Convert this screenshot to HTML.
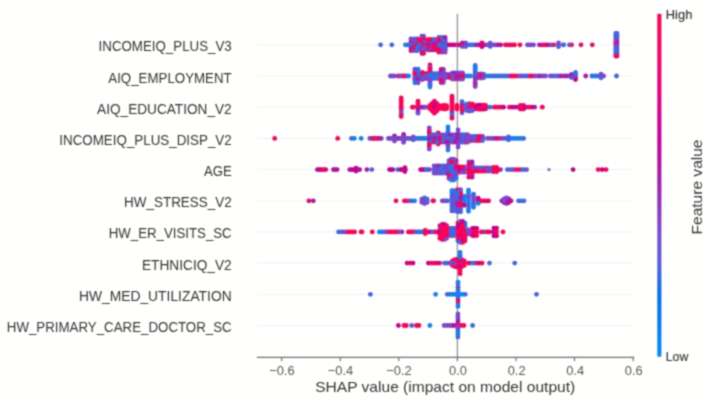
<!DOCTYPE html>
<html><head><meta charset="utf-8"><style>
html,body{margin:0;padding:0;background:#fff;overflow:hidden;}
svg{display:block;}

text{font-family:"Liberation Sans",sans-serif;}
</style></head><body>
<svg width="714" height="403" viewBox="0 0 714 403">
<defs>
<filter id="bl" x="0" y="0" width="714" height="403" filterUnits="userSpaceOnUse" color-interpolation-filters="sRGB">
<feColorMatrix in="SourceGraphic" type="matrix" values="0.299 0.587 0.114 0 0 0.299 0.587 0.114 0 0 0.299 0.587 0.114 0 0 0 0 0 1 0" result="Y"/>
<feColorMatrix in="SourceGraphic" type="matrix" values="0.3505 -0.2935 -0.057 0 0.5 -0.1495 0.2065 -0.057 0 0.5 -0.1495 -0.2935 0.443 0 0.5 0 0 0 1 0" result="C"/>
<feConvolveMatrix in="C" order="3" kernelMatrix="0.21 0.458 0.21 0.458 1 0.458 0.21 0.458 0.21" divisor="3.672" edgeMode="duplicate" result="Cb"/>
<feComposite in="Y" in2="Cb" operator="arithmetic" k1="0" k2="1" k3="2" k4="-1" result="M"/>
<feConvolveMatrix in="M" order="3" kernelMatrix="0.13 0.36 0.13 0.36 1 0.36 0.13 0.36 0.13" divisor="2.96" edgeMode="duplicate"/>
</filter>
<linearGradient id="cb" x1="0" y1="1" x2="0" y2="0">
<stop offset="0" stop-color="#008bfb"/>
<stop offset="0.09" stop-color="#007ef6"/>
<stop offset="0.18" stop-color="#006fed"/>
<stop offset="0.27" stop-color="#575fdf"/>
<stop offset="0.36" stop-color="#794cce"/>
<stop offset="0.45" stop-color="#9233b9"/>
<stop offset="0.54" stop-color="#aa17a7"/>
<stop offset="0.63" stop-color="#c5009a"/>
<stop offset="0.72" stop-color="#db008a"/>
<stop offset="0.81" stop-color="#ec0078"/>
<stop offset="0.90" stop-color="#fa0065"/>
<stop offset="1" stop-color="#ff0051"/>
</linearGradient>
</defs>
<g filter="url(#bl)">
<rect width="714" height="403" fill="#fff"/>
<g stroke="#f2f2f2" stroke-width="1">
<line x1="257" x2="633.6" y1="44.8" y2="44.8"/>
<line x1="257" x2="633.6" y1="76.0" y2="76.0"/>
<line x1="257" x2="633.6" y1="107.2" y2="107.2"/>
<line x1="257" x2="633.6" y1="138.4" y2="138.4"/>
<line x1="257" x2="633.6" y1="169.6" y2="169.6"/>
<line x1="257" x2="633.6" y1="200.8" y2="200.8"/>
<line x1="257" x2="633.6" y1="231.9" y2="231.9"/>
<line x1="257" x2="633.6" y1="263.1" y2="263.1"/>
<line x1="257" x2="633.6" y1="294.3" y2="294.3"/>
<line x1="257" x2="633.6" y1="325.5" y2="325.5"/>
</g>
<line x1="457.4" x2="457.4" y1="13.8" y2="357" stroke="#9a9a9a" stroke-width="1.4"/>
<g>
<circle cx="457.5" cy="79.0" r="2.40" fill="#7a48cf"/>
<circle cx="401.2" cy="104.9" r="2.40" fill="#ff0055"/>
<circle cx="392.5" cy="76.0" r="2.40" fill="#7a48cf"/>
<circle cx="412.1" cy="200.8" r="2.40" fill="#4266e2"/>
<circle cx="445.1" cy="40.0" r="2.40" fill="#ff0055"/>
<circle cx="439.9" cy="47.2" r="2.40" fill="#ff0055"/>
<circle cx="447.6" cy="200.8" r="2.40" fill="#7a48cf"/>
<circle cx="444.7" cy="142.0" r="2.40" fill="#a81aa8"/>
<circle cx="465.1" cy="237.9" r="2.40" fill="#ff0055"/>
<circle cx="437.6" cy="77.3" r="2.40" fill="#1580f2"/>
<circle cx="438.2" cy="135.6" r="2.40" fill="#ff0055"/>
<circle cx="481.0" cy="76.0" r="2.40" fill="#7a48cf"/>
<circle cx="457.4" cy="206.3" r="2.40" fill="#ff0055"/>
<circle cx="510.0" cy="44.8" r="2.40" fill="#c8008f"/>
<circle cx="460.3" cy="226.7" r="2.40" fill="#7a48cf"/>
<circle cx="448.0" cy="126.8" r="2.40" fill="#1580f2"/>
<circle cx="407.6" cy="44.8" r="2.40" fill="#4266e2"/>
<circle cx="568.6" cy="76.0" r="2.40" fill="#7a48cf"/>
<circle cx="430.0" cy="83.0" r="2.40" fill="#1580f2"/>
<circle cx="425.2" cy="230.3" r="2.40" fill="#ff0055"/>
<circle cx="413.3" cy="137.0" r="2.40" fill="#7a48cf"/>
<circle cx="475.2" cy="263.1" r="2.40" fill="#ff0055"/>
<circle cx="432.1" cy="42.4" r="2.40" fill="#a81aa8"/>
<circle cx="532.9" cy="76.0" r="2.40" fill="#ff0055"/>
<circle cx="461.1" cy="325.5" r="2.40" fill="#ff0055"/>
<circle cx="458.0" cy="298.4" r="2.40" fill="#1580f2"/>
<circle cx="417.1" cy="38.9" r="2.40" fill="#a81aa8"/>
<circle cx="429.4" cy="142.0" r="2.40" fill="#1580f2"/>
<circle cx="394.5" cy="135.8" r="2.40" fill="#a81aa8"/>
<circle cx="429.4" cy="134.8" r="2.40" fill="#1580f2"/>
<circle cx="430.0" cy="78.9" r="2.40" fill="#4266e2"/>
<circle cx="483.6" cy="74.2" r="2.40" fill="#7a48cf"/>
<circle cx="418.1" cy="69.2" r="2.40" fill="#1580f2"/>
<circle cx="407.1" cy="263.1" r="2.40" fill="#c8008f"/>
<circle cx="485.6" cy="108.9" r="2.40" fill="#ff0055"/>
<circle cx="458.1" cy="135.5" r="2.40" fill="#7a48cf"/>
<circle cx="417.5" cy="76.0" r="2.40" fill="#4266e2"/>
<circle cx="435.6" cy="294.3" r="2.40" fill="#1580f2"/>
<circle cx="571.6" cy="44.8" r="2.40" fill="#ff0055"/>
<circle cx="434.0" cy="142.0" r="2.40" fill="#7a48cf"/>
<circle cx="414.0" cy="44.8" r="2.40" fill="#4266e2"/>
<circle cx="526.2" cy="107.2" r="2.40" fill="#a81aa8"/>
<circle cx="493.4" cy="169.6" r="2.40" fill="#ff0055"/>
<circle cx="478.4" cy="76.0" r="2.40" fill="#7a48cf"/>
<circle cx="414.9" cy="82.8" r="2.40" fill="#1580f2"/>
<circle cx="457.0" cy="107.2" r="2.40" fill="#ff0055"/>
<circle cx="460.1" cy="73.0" r="2.40" fill="#7a48cf"/>
<circle cx="407.9" cy="138.4" r="2.40" fill="#7a48cf"/>
<circle cx="507.7" cy="44.8" r="2.40" fill="#ff0055"/>
<circle cx="422.4" cy="169.6" r="2.40" fill="#ff0055"/>
<circle cx="481.0" cy="73.9" r="2.40" fill="#7a48cf"/>
<circle cx="444.5" cy="109.0" r="2.40" fill="#ff0055"/>
<circle cx="472.1" cy="167.0" r="2.40" fill="#ff0055"/>
<circle cx="454.9" cy="76.0" r="2.40" fill="#ff0055"/>
<circle cx="442.5" cy="42.4" r="2.40" fill="#7a48cf"/>
<circle cx="391.9" cy="138.4" r="2.40" fill="#7a48cf"/>
<circle cx="411.4" cy="44.8" r="2.40" fill="#7a48cf"/>
<circle cx="448.0" cy="133.7" r="2.40" fill="#ff0055"/>
<circle cx="406.9" cy="200.8" r="2.40" fill="#ff0055"/>
<circle cx="437.3" cy="40.0" r="2.40" fill="#7a48cf"/>
<circle cx="460.6" cy="206.3" r="2.40" fill="#ff0055"/>
<circle cx="452.3" cy="134.8" r="2.40" fill="#7a48cf"/>
<circle cx="475.2" cy="84.7" r="2.40" fill="#a81aa8"/>
<circle cx="510.7" cy="138.4" r="2.40" fill="#4266e2"/>
<circle cx="422.8" cy="107.2" r="2.40" fill="#7a48cf"/>
<circle cx="443.3" cy="69.4" r="2.40" fill="#a81aa8"/>
<circle cx="425.3" cy="76.0" r="2.40" fill="#1580f2"/>
<circle cx="615.8" cy="47.9" r="2.40" fill="#1580f2"/>
<circle cx="356.0" cy="171.0" r="2.40" fill="#c8008f"/>
<circle cx="467.6" cy="142.0" r="2.40" fill="#4266e2"/>
<circle cx="508.5" cy="139.8" r="2.40" fill="#4266e2"/>
<circle cx="453.6" cy="208.4" r="2.40" fill="#4266e2"/>
<circle cx="418.1" cy="80.5" r="2.40" fill="#7a48cf"/>
<circle cx="430.0" cy="67.0" r="2.40" fill="#ff0055"/>
<circle cx="500.3" cy="138.4" r="2.40" fill="#7a48cf"/>
<circle cx="444.1" cy="166.0" r="2.40" fill="#4266e2"/>
<circle cx="538.0" cy="76.0" r="2.40" fill="#7a48cf"/>
<circle cx="454.8" cy="259.7" r="2.40" fill="#ff0055"/>
<circle cx="434.7" cy="42.4" r="2.40" fill="#4266e2"/>
<circle cx="446.4" cy="74.5" r="2.40" fill="#a81aa8"/>
<circle cx="437.3" cy="47.2" r="2.40" fill="#7a48cf"/>
<circle cx="442.1" cy="142.0" r="2.40" fill="#ff0055"/>
<circle cx="460.3" cy="237.2" r="2.40" fill="#ff0055"/>
<circle cx="460.1" cy="271.1" r="2.40" fill="#ff0055"/>
<circle cx="510.2" cy="76.0" r="2.40" fill="#ff0055"/>
<circle cx="457.4" cy="211.8" r="2.40" fill="#4266e2"/>
<circle cx="596.6" cy="76.0" r="2.40" fill="#4266e2"/>
<circle cx="313.3" cy="200.8" r="2.40" fill="#a81aa8"/>
<circle cx="442.5" cy="44.8" r="2.40" fill="#ff0055"/>
<circle cx="458.1" cy="129.8" r="2.40" fill="#7a48cf"/>
<circle cx="472.1" cy="169.6" r="2.40" fill="#7a48cf"/>
<circle cx="416.6" cy="42.4" r="2.40" fill="#7a48cf"/>
<circle cx="468.5" cy="200.8" r="2.40" fill="#1580f2"/>
<circle cx="448.0" cy="131.4" r="2.40" fill="#4266e2"/>
<circle cx="423.6" cy="50.5" r="2.40" fill="#a81aa8"/>
<circle cx="508.1" cy="138.4" r="2.40" fill="#1580f2"/>
<circle cx="383.5" cy="231.9" r="2.40" fill="#4266e2"/>
<circle cx="500.6" cy="44.8" r="2.40" fill="#c8008f"/>
<circle cx="429.3" cy="136.2" r="2.40" fill="#4266e2"/>
<circle cx="428.4" cy="39.7" r="2.40" fill="#a81aa8"/>
<circle cx="404.9" cy="167.7" r="2.40" fill="#c8008f"/>
<circle cx="429.5" cy="47.2" r="2.40" fill="#4266e2"/>
<circle cx="477.0" cy="138.4" r="2.40" fill="#4266e2"/>
<circle cx="465.6" cy="44.8" r="2.40" fill="#a81aa8"/>
<circle cx="449.9" cy="231.9" r="2.40" fill="#4266e2"/>
<circle cx="464.2" cy="196.2" r="2.40" fill="#1580f2"/>
<circle cx="455.6" cy="44.8" r="2.40" fill="#a81aa8"/>
<circle cx="333.5" cy="169.6" r="2.40" fill="#c8008f"/>
<circle cx="434.1" cy="169.6" r="2.40" fill="#4266e2"/>
<circle cx="448.0" cy="140.7" r="2.40" fill="#4266e2"/>
<circle cx="485.6" cy="44.8" r="2.40" fill="#7a48cf"/>
<circle cx="349.7" cy="169.6" r="2.40" fill="#a81aa8"/>
<circle cx="457.0" cy="109.0" r="2.40" fill="#ff0055"/>
<circle cx="371.7" cy="138.4" r="2.40" fill="#a81aa8"/>
<circle cx="356.0" cy="168.2" r="2.40" fill="#c8008f"/>
<circle cx="545.6" cy="76.0" r="2.40" fill="#7a48cf"/>
<circle cx="527.9" cy="76.0" r="2.40" fill="#7a48cf"/>
<circle cx="454.1" cy="228.3" r="2.40" fill="#7a48cf"/>
<circle cx="461.8" cy="266.5" r="2.40" fill="#ff0055"/>
<circle cx="475.2" cy="69.2" r="2.40" fill="#1580f2"/>
<circle cx="505.5" cy="138.4" r="2.40" fill="#4266e2"/>
<circle cx="474.6" cy="235.5" r="2.40" fill="#ff0055"/>
<circle cx="430.6" cy="73.6" r="2.40" fill="#7a48cf"/>
<circle cx="496.6" cy="169.6" r="2.40" fill="#ff0055"/>
<circle cx="443.0" cy="138.4" r="2.40" fill="#4266e2"/>
<circle cx="617.0" cy="35.6" r="2.40" fill="#1580f2"/>
<circle cx="456.1" cy="169.6" r="2.40" fill="#7a48cf"/>
<circle cx="421.9" cy="50.5" r="2.40" fill="#ff0055"/>
<circle cx="432.1" cy="44.8" r="2.40" fill="#4266e2"/>
<circle cx="522.8" cy="76.0" r="2.40" fill="#7a48cf"/>
<circle cx="465.0" cy="134.8" r="2.40" fill="#ff0055"/>
<circle cx="585.7" cy="76.0" r="2.40" fill="#a81aa8"/>
<circle cx="458.0" cy="282.2" r="2.40" fill="#1580f2"/>
<circle cx="446.6" cy="238.3" r="2.40" fill="#7a48cf"/>
<circle cx="481.0" cy="109.3" r="2.40" fill="#ff0055"/>
<circle cx="379.4" cy="231.9" r="2.40" fill="#1580f2"/>
<circle cx="353.7" cy="169.6" r="2.40" fill="#c8008f"/>
<circle cx="453.7" cy="180.0" r="2.40" fill="#1580f2"/>
<circle cx="422.2" cy="76.0" r="2.40" fill="#ff0055"/>
<circle cx="404.4" cy="200.8" r="2.40" fill="#ff0055"/>
<circle cx="418.0" cy="107.2" r="2.40" fill="#ff0055"/>
<circle cx="420.3" cy="138.4" r="2.40" fill="#1580f2"/>
<circle cx="446.6" cy="231.9" r="2.40" fill="#ff0055"/>
<circle cx="317.3" cy="169.6" r="2.40" fill="#a81aa8"/>
<circle cx="536.5" cy="294.3" r="2.40" fill="#4266e2"/>
<circle cx="465.1" cy="240.8" r="2.40" fill="#ff0055"/>
<circle cx="444.7" cy="134.8" r="2.40" fill="#7a48cf"/>
<circle cx="452.0" cy="100.2" r="2.40" fill="#ff0055"/>
<circle cx="471.4" cy="140.5" r="2.40" fill="#ff0055"/>
<circle cx="432.1" cy="110.9" r="2.40" fill="#ff0055"/>
<circle cx="410.2" cy="231.9" r="2.40" fill="#ff0055"/>
<circle cx="573.1" cy="169.6" r="2.40" fill="#a8107e"/>
<circle cx="520.4" cy="109.0" r="2.40" fill="#ff0055"/>
<circle cx="442.1" cy="224.5" r="2.40" fill="#a81aa8"/>
<circle cx="420.1" cy="78.4" r="2.40" fill="#4266e2"/>
<circle cx="441.1" cy="76.0" r="2.40" fill="#7a48cf"/>
<circle cx="470.5" cy="44.8" r="2.40" fill="#1580f2"/>
<circle cx="421.9" cy="200.8" r="2.40" fill="#4266e2"/>
<circle cx="460.1" cy="252.5" r="2.40" fill="#4266e2"/>
<circle cx="405.4" cy="44.8" r="2.40" fill="#1580f2"/>
<circle cx="414.9" cy="73.7" r="2.40" fill="#ff0055"/>
<circle cx="601.0" cy="76.0" r="2.40" fill="#4266e2"/>
<circle cx="403.7" cy="169.6" r="2.40" fill="#ff0055"/>
<circle cx="553.0" cy="76.0" r="2.40" fill="#7a48cf"/>
<circle cx="429.6" cy="169.6" r="2.40" fill="#7a48cf"/>
<circle cx="514.7" cy="263.1" r="2.40" fill="#4266e2"/>
<circle cx="398.4" cy="76.0" r="2.40" fill="#ff0055"/>
<circle cx="423.6" cy="47.7" r="2.40" fill="#ff0055"/>
<circle cx="503.0" cy="231.9" r="2.40" fill="#ff0055"/>
<circle cx="460.1" cy="79.0" r="2.40" fill="#7a48cf"/>
<circle cx="428.4" cy="42.2" r="2.40" fill="#7a48cf"/>
<circle cx="403.6" cy="136.4" r="2.40" fill="#7a48cf"/>
<circle cx="444.2" cy="325.5" r="2.40" fill="#7a48cf"/>
<circle cx="427.1" cy="200.8" r="2.40" fill="#4266e2"/>
<circle cx="409.7" cy="138.4" r="2.40" fill="#4266e2"/>
<circle cx="477.0" cy="136.3" r="2.40" fill="#a81aa8"/>
<circle cx="436.6" cy="166.0" r="2.40" fill="#7a48cf"/>
<circle cx="424.8" cy="231.9" r="2.40" fill="#7a48cf"/>
<circle cx="482.0" cy="42.9" r="2.40" fill="#c8008f"/>
<circle cx="462.0" cy="104.4" r="2.40" fill="#ff0055"/>
<circle cx="472.5" cy="228.3" r="2.40" fill="#c8008f"/>
<circle cx="434.1" cy="166.0" r="2.40" fill="#7a48cf"/>
<circle cx="401.2" cy="100.2" r="2.40" fill="#ff0055"/>
<circle cx="338.6" cy="231.9" r="2.40" fill="#4266e2"/>
<circle cx="508.5" cy="138.4" r="2.40" fill="#4266e2"/>
<circle cx="448.9" cy="160.7" r="2.40" fill="#4266e2"/>
<circle cx="432.1" cy="103.4" r="2.40" fill="#ff0055"/>
<circle cx="617.0" cy="47.9" r="2.40" fill="#1580f2"/>
<circle cx="464.6" cy="169.6" r="2.40" fill="#ff0055"/>
<circle cx="439.9" cy="49.6" r="2.40" fill="#7a48cf"/>
<circle cx="453.0" cy="134.8" r="2.40" fill="#7a48cf"/>
<circle cx="460.6" cy="200.8" r="2.40" fill="#a81aa8"/>
<circle cx="545.1" cy="44.8" r="2.40" fill="#ff0055"/>
<circle cx="468.5" cy="211.3" r="2.40" fill="#1580f2"/>
<circle cx="462.7" cy="234.5" r="2.40" fill="#4266e2"/>
<circle cx="433.6" cy="200.8" r="2.40" fill="#c8008f"/>
<circle cx="468.9" cy="162.0" r="2.40" fill="#7a48cf"/>
<circle cx="429.3" cy="146.8" r="2.40" fill="#ff0055"/>
<circle cx="319.4" cy="169.6" r="2.40" fill="#c8008f"/>
<circle cx="501.3" cy="107.2" r="2.40" fill="#ff0055"/>
<circle cx="457.0" cy="105.4" r="2.40" fill="#ff0055"/>
<circle cx="558.2" cy="76.0" r="2.40" fill="#7a48cf"/>
<circle cx="466.4" cy="107.2" r="2.40" fill="#ff0055"/>
<circle cx="449.6" cy="74.5" r="2.40" fill="#7a48cf"/>
<circle cx="468.5" cy="208.7" r="2.40" fill="#1580f2"/>
<circle cx="469.5" cy="110.8" r="2.40" fill="#7a48cf"/>
<circle cx="448.9" cy="172.5" r="2.40" fill="#ff0055"/>
<circle cx="448.9" cy="169.6" r="2.40" fill="#7a48cf"/>
<circle cx="430.0" cy="73.0" r="2.40" fill="#4266e2"/>
<circle cx="473.5" cy="200.8" r="2.40" fill="#1580f2"/>
<circle cx="462.0" cy="112.8" r="2.40" fill="#7a48cf"/>
<circle cx="468.5" cy="198.1" r="2.40" fill="#4266e2"/>
<circle cx="486.8" cy="168.0" r="2.40" fill="#ff0055"/>
<circle cx="452.0" cy="112.2" r="2.40" fill="#7a48cf"/>
<circle cx="430.0" cy="71.0" r="2.40" fill="#7a48cf"/>
<circle cx="449.8" cy="142.0" r="2.40" fill="#ff0055"/>
<circle cx="410.9" cy="41.8" r="2.40" fill="#4266e2"/>
<circle cx="511.0" cy="200.8" r="2.40" fill="#c8008f"/>
<circle cx="439.9" cy="238.3" r="2.40" fill="#ff0055"/>
<circle cx="448.0" cy="145.3" r="2.40" fill="#ff0055"/>
<circle cx="506.4" cy="200.8" r="2.40" fill="#7a48cf"/>
<circle cx="430.0" cy="81.0" r="2.40" fill="#1580f2"/>
<circle cx="437.3" cy="49.6" r="2.40" fill="#4266e2"/>
<circle cx="399.0" cy="138.4" r="2.40" fill="#7a48cf"/>
<circle cx="424.5" cy="197.9" r="2.40" fill="#4266e2"/>
<circle cx="500.6" cy="169.6" r="2.40" fill="#7a48cf"/>
<circle cx="476.4" cy="108.9" r="2.40" fill="#c8008f"/>
<circle cx="462.4" cy="134.8" r="2.40" fill="#7a48cf"/>
<circle cx="432.9" cy="42.2" r="2.40" fill="#c8008f"/>
<circle cx="459.5" cy="267.0" r="2.40" fill="#ff0055"/>
<circle cx="460.6" cy="209.1" r="2.40" fill="#4266e2"/>
<circle cx="419.4" cy="231.9" r="2.40" fill="#4266e2"/>
<circle cx="467.6" cy="138.4" r="2.40" fill="#4266e2"/>
<circle cx="489.6" cy="169.6" r="2.40" fill="#7a48cf"/>
<circle cx="465.1" cy="142.0" r="2.40" fill="#7a48cf"/>
<circle cx="486.8" cy="169.6" r="2.40" fill="#7a48cf"/>
<circle cx="434.4" cy="107.2" r="2.40" fill="#ff0055"/>
<circle cx="434.4" cy="101.2" r="2.40" fill="#ff0055"/>
<circle cx="434.4" cy="76.0" r="2.40" fill="#4266e2"/>
<circle cx="461.8" cy="263.1" r="2.40" fill="#c8008f"/>
<circle cx="430.0" cy="65.0" r="2.40" fill="#ff0055"/>
<circle cx="457.9" cy="319.1" r="2.40" fill="#7a48cf"/>
<circle cx="439.1" cy="108.7" r="2.40" fill="#ff0055"/>
<circle cx="429.3" cy="138.4" r="2.40" fill="#1580f2"/>
<circle cx="563.4" cy="76.0" r="2.40" fill="#7a48cf"/>
<circle cx="404.3" cy="138.4" r="2.40" fill="#7a48cf"/>
<circle cx="464.2" cy="263.1" r="2.40" fill="#c8008f"/>
<circle cx="439.1" cy="173.2" r="2.40" fill="#4266e2"/>
<circle cx="430.0" cy="67.4" r="2.40" fill="#7a48cf"/>
<circle cx="427.9" cy="73.6" r="2.40" fill="#7a48cf"/>
<circle cx="448.9" cy="163.6" r="2.40" fill="#7a48cf"/>
<circle cx="476.4" cy="105.4" r="2.40" fill="#ff0055"/>
<circle cx="468.5" cy="195.4" r="2.40" fill="#7a48cf"/>
<circle cx="458.0" cy="303.7" r="2.40" fill="#1580f2"/>
<circle cx="462.5" cy="142.0" r="2.40" fill="#7a48cf"/>
<circle cx="473.5" cy="202.9" r="2.40" fill="#7a48cf"/>
<circle cx="460.1" cy="268.4" r="2.40" fill="#ff0055"/>
<circle cx="452.3" cy="142.0" r="2.40" fill="#7a48cf"/>
<circle cx="481.3" cy="44.8" r="2.40" fill="#ff0055"/>
<circle cx="406.6" cy="76.0" r="2.40" fill="#4266e2"/>
<circle cx="468.4" cy="44.8" r="2.40" fill="#4266e2"/>
<circle cx="432.9" cy="200.8" r="2.40" fill="#ff0055"/>
<circle cx="446.4" cy="77.5" r="2.40" fill="#7a48cf"/>
<circle cx="617.0" cy="54.0" r="2.40" fill="#ff0055"/>
<circle cx="616.5" cy="76.0" r="2.40" fill="#4266e2"/>
<circle cx="492.5" cy="76.0" r="2.40" fill="#1580f2"/>
<circle cx="452.0" cy="231.9" r="2.40" fill="#1580f2"/>
<circle cx="515.6" cy="169.6" r="2.40" fill="#ff0055"/>
<circle cx="393.7" cy="231.9" r="2.40" fill="#ff0055"/>
<circle cx="430.6" cy="39.7" r="2.40" fill="#ff0055"/>
<circle cx="606.0" cy="169.6" r="2.40" fill="#ff0055"/>
<circle cx="482.6" cy="138.4" r="2.40" fill="#4266e2"/>
<circle cx="492.0" cy="44.8" r="2.40" fill="#4266e2"/>
<circle cx="449.9" cy="294.3" r="2.40" fill="#1580f2"/>
<circle cx="465.6" cy="43.0" r="2.40" fill="#7a48cf"/>
<circle cx="468.5" cy="192.8" r="2.40" fill="#1580f2"/>
<circle cx="430.0" cy="87.0" r="2.40" fill="#1580f2"/>
<circle cx="465.4" cy="76.0" r="2.40" fill="#1580f2"/>
<circle cx="397.3" cy="138.4" r="2.40" fill="#a81aa8"/>
<circle cx="485.6" cy="107.2" r="2.40" fill="#ff0055"/>
<circle cx="465.6" cy="46.6" r="2.40" fill="#7a48cf"/>
<circle cx="413.3" cy="138.4" r="2.40" fill="#7a48cf"/>
<circle cx="434.1" cy="173.2" r="2.40" fill="#7a48cf"/>
<circle cx="457.9" cy="334.5" r="2.40" fill="#1580f2"/>
<circle cx="496.6" cy="167.4" r="2.40" fill="#ff0055"/>
<circle cx="453.7" cy="164.3" r="2.40" fill="#7a48cf"/>
<circle cx="496.6" cy="235.8" r="2.40" fill="#c8008f"/>
<circle cx="487.7" cy="44.8" r="2.40" fill="#4266e2"/>
<circle cx="414.9" cy="78.4" r="2.40" fill="#a81aa8"/>
<circle cx="434.7" cy="40.0" r="2.40" fill="#a81aa8"/>
<circle cx="496.7" cy="107.2" r="2.40" fill="#ff0055"/>
<circle cx="465.1" cy="223.1" r="2.40" fill="#1580f2"/>
<circle cx="421.9" cy="39.1" r="2.40" fill="#ff0055"/>
<circle cx="418.1" cy="82.8" r="2.40" fill="#7a48cf"/>
<circle cx="475.2" cy="71.2" r="2.40" fill="#4266e2"/>
<circle cx="489.9" cy="44.8" r="2.40" fill="#1580f2"/>
<circle cx="410.9" cy="50.7" r="2.40" fill="#a81aa8"/>
<circle cx="462.4" cy="138.4" r="2.40" fill="#ff0055"/>
<circle cx="397.8" cy="231.9" r="2.40" fill="#ff0055"/>
<circle cx="571.5" cy="76.0" r="2.40" fill="#a81aa8"/>
<circle cx="434.0" cy="138.4" r="2.40" fill="#7a48cf"/>
<circle cx="469.5" cy="103.6" r="2.40" fill="#ff0055"/>
<circle cx="436.8" cy="107.2" r="2.40" fill="#c8008f"/>
<circle cx="391.1" cy="169.6" r="2.40" fill="#a81aa8"/>
<circle cx="475.4" cy="169.6" r="2.40" fill="#4266e2"/>
<circle cx="446.5" cy="263.1" r="2.40" fill="#1580f2"/>
<circle cx="470.7" cy="263.1" r="2.40" fill="#7a48cf"/>
<circle cx="413.9" cy="231.9" r="2.40" fill="#ff0055"/>
<circle cx="451.9" cy="200.8" r="2.40" fill="#7a48cf"/>
<circle cx="490.2" cy="43.2" r="2.40" fill="#7a48cf"/>
<circle cx="396.0" cy="200.8" r="2.40" fill="#ff0055"/>
<circle cx="429.3" cy="140.5" r="2.40" fill="#7a48cf"/>
<circle cx="512.3" cy="44.8" r="2.40" fill="#ff0055"/>
<circle cx="444.7" cy="138.4" r="2.40" fill="#a81aa8"/>
<circle cx="458.0" cy="287.6" r="2.40" fill="#ff0055"/>
<circle cx="547.9" cy="44.8" r="2.40" fill="#c8008f"/>
<circle cx="435.1" cy="49.9" r="2.40" fill="#7a48cf"/>
<circle cx="434.4" cy="110.2" r="2.40" fill="#ff0055"/>
<circle cx="478.2" cy="200.8" r="2.40" fill="#c8008f"/>
<circle cx="432.1" cy="49.6" r="2.40" fill="#ff0055"/>
<circle cx="451.3" cy="174.8" r="2.40" fill="#ff0055"/>
<circle cx="460.3" cy="231.9" r="2.40" fill="#4266e2"/>
<circle cx="418.0" cy="113.2" r="2.40" fill="#7a48cf"/>
<circle cx="432.9" cy="49.9" r="2.40" fill="#a81aa8"/>
<circle cx="434.7" cy="49.6" r="2.40" fill="#a81aa8"/>
<circle cx="481.1" cy="169.6" r="2.40" fill="#7a48cf"/>
<circle cx="439.9" cy="228.8" r="2.40" fill="#7a48cf"/>
<circle cx="599.0" cy="76.0" r="2.40" fill="#4266e2"/>
<circle cx="617.0" cy="37.6" r="2.40" fill="#7a48cf"/>
<circle cx="446.6" cy="107.2" r="2.40" fill="#ff0055"/>
<circle cx="448.0" cy="129.1" r="2.40" fill="#1580f2"/>
<circle cx="411.4" cy="47.2" r="2.40" fill="#4266e2"/>
<circle cx="468.5" cy="234.0" r="2.40" fill="#7a48cf"/>
<circle cx="441.1" cy="82.6" r="2.40" fill="#a81aa8"/>
<circle cx="419.2" cy="42.4" r="2.40" fill="#ff0055"/>
<circle cx="456.1" cy="175.5" r="2.40" fill="#7a48cf"/>
<circle cx="403.6" cy="134.5" r="2.40" fill="#a81aa8"/>
<circle cx="468.0" cy="76.0" r="2.40" fill="#1580f2"/>
<circle cx="438.9" cy="42.3" r="2.40" fill="#ff0055"/>
<circle cx="436.6" cy="173.2" r="2.40" fill="#7a48cf"/>
<circle cx="404.9" cy="169.6" r="2.40" fill="#c8008f"/>
<circle cx="445.1" cy="42.3" r="2.40" fill="#ff0055"/>
<circle cx="575.5" cy="77.8" r="2.40" fill="#ff0055"/>
<circle cx="274.7" cy="138.4" r="2.40" fill="#ff0055"/>
<circle cx="430.0" cy="85.0" r="2.40" fill="#1580f2"/>
<circle cx="415.0" cy="138.4" r="2.40" fill="#4266e2"/>
<circle cx="439.6" cy="142.0" r="2.40" fill="#a81aa8"/>
<circle cx="454.9" cy="134.8" r="2.40" fill="#4266e2"/>
<circle cx="457.9" cy="234.9" r="2.40" fill="#ff0055"/>
<circle cx="456.1" cy="178.4" r="2.40" fill="#1580f2"/>
<circle cx="566.0" cy="76.0" r="2.40" fill="#a81aa8"/>
<circle cx="433.2" cy="78.4" r="2.40" fill="#7a48cf"/>
<circle cx="472.7" cy="44.8" r="2.40" fill="#1580f2"/>
<circle cx="433.2" cy="76.0" r="2.40" fill="#4266e2"/>
<circle cx="448.9" cy="178.4" r="2.40" fill="#7a48cf"/>
<circle cx="422.7" cy="73.6" r="2.40" fill="#a81aa8"/>
<circle cx="454.8" cy="266.5" r="2.40" fill="#ff0055"/>
<circle cx="439.1" cy="166.0" r="2.40" fill="#a81aa8"/>
<circle cx="458.4" cy="44.8" r="2.40" fill="#7a48cf"/>
<circle cx="445.1" cy="42.4" r="2.40" fill="#7a48cf"/>
<circle cx="478.2" cy="168.0" r="2.40" fill="#4266e2"/>
<circle cx="483.6" cy="76.0" r="2.40" fill="#7a48cf"/>
<circle cx="427.1" cy="202.4" r="2.40" fill="#7a48cf"/>
<circle cx="490.0" cy="107.2" r="2.40" fill="#1580f2"/>
<circle cx="430.0" cy="77.0" r="2.40" fill="#4266e2"/>
<circle cx="443.3" cy="76.0" r="2.40" fill="#ff0055"/>
<circle cx="442.0" cy="47.3" r="2.40" fill="#7a48cf"/>
<circle cx="430.0" cy="70.3" r="2.40" fill="#7a48cf"/>
<circle cx="457.9" cy="316.5" r="2.40" fill="#7a48cf"/>
<circle cx="603.6" cy="76.0" r="2.40" fill="#7a48cf"/>
<circle cx="454.9" cy="79.0" r="2.40" fill="#ff0055"/>
<circle cx="445.1" cy="49.6" r="2.40" fill="#a81aa8"/>
<circle cx="372.3" cy="231.9" r="2.40" fill="#ff0055"/>
<circle cx="531.5" cy="44.8" r="2.40" fill="#7a48cf"/>
<circle cx="460.1" cy="294.3" r="2.40" fill="#1580f2"/>
<circle cx="406.1" cy="138.4" r="2.40" fill="#7a48cf"/>
<circle cx="443.6" cy="73.6" r="2.40" fill="#1580f2"/>
<circle cx="508.7" cy="199.0" r="2.40" fill="#c8008f"/>
<circle cx="421.8" cy="49.6" r="2.40" fill="#a81aa8"/>
<circle cx="428.4" cy="47.3" r="2.40" fill="#a81aa8"/>
<circle cx="457.9" cy="337.1" r="2.40" fill="#4266e2"/>
<circle cx="404.5" cy="76.0" r="2.40" fill="#ff0055"/>
<circle cx="487.4" cy="138.4" r="2.40" fill="#7a48cf"/>
<circle cx="497.7" cy="138.4" r="2.40" fill="#ff0055"/>
<circle cx="455.0" cy="294.3" r="2.40" fill="#4266e2"/>
<circle cx="394.5" cy="141.0" r="2.40" fill="#7a48cf"/>
<circle cx="475.2" cy="77.0" r="2.40" fill="#ff0055"/>
<circle cx="430.0" cy="81.7" r="2.40" fill="#7a48cf"/>
<circle cx="592.0" cy="76.0" r="2.40" fill="#4266e2"/>
<circle cx="452.4" cy="265.4" r="2.40" fill="#ff0055"/>
<circle cx="417.5" cy="73.6" r="2.40" fill="#4266e2"/>
<circle cx="555.6" cy="76.0" r="2.40" fill="#4266e2"/>
<circle cx="452.0" cy="96.2" r="2.40" fill="#ff0055"/>
<circle cx="441.0" cy="78.4" r="2.40" fill="#1580f2"/>
<circle cx="432.1" cy="107.2" r="2.40" fill="#c8008f"/>
<circle cx="451.9" cy="198.2" r="2.40" fill="#7a48cf"/>
<circle cx="476.7" cy="228.3" r="2.40" fill="#c8008f"/>
<circle cx="446.6" cy="108.7" r="2.40" fill="#ff0055"/>
<circle cx="420.1" cy="73.6" r="2.40" fill="#4266e2"/>
<circle cx="427.8" cy="169.6" r="2.40" fill="#7a48cf"/>
<circle cx="395.5" cy="138.4" r="2.40" fill="#7a48cf"/>
<circle cx="432.9" cy="44.8" r="2.40" fill="#c8008f"/>
<circle cx="457.9" cy="223.1" r="2.40" fill="#ff0055"/>
<circle cx="453.7" cy="161.7" r="2.40" fill="#ff0055"/>
<circle cx="481.0" cy="78.1" r="2.40" fill="#7a48cf"/>
<circle cx="451.3" cy="172.2" r="2.40" fill="#7a48cf"/>
<circle cx="456.1" cy="160.7" r="2.40" fill="#ff0055"/>
<circle cx="451.9" cy="193.1" r="2.40" fill="#4266e2"/>
<circle cx="493.9" cy="231.9" r="2.40" fill="#c8008f"/>
<circle cx="442.1" cy="236.9" r="2.40" fill="#ff0055"/>
<circle cx="421.8" cy="40.0" r="2.40" fill="#7a48cf"/>
<circle cx="472.6" cy="104.2" r="2.40" fill="#ff0055"/>
<circle cx="402.0" cy="169.6" r="2.40" fill="#ff0055"/>
<circle cx="461.8" cy="259.7" r="2.40" fill="#ff0055"/>
<circle cx="460.0" cy="138.4" r="2.40" fill="#a81aa8"/>
<circle cx="414.0" cy="50.7" r="2.40" fill="#4266e2"/>
<circle cx="448.0" cy="136.1" r="2.40" fill="#7a48cf"/>
<circle cx="423.0" cy="231.9" r="2.40" fill="#4266e2"/>
<circle cx="485.5" cy="231.9" r="2.40" fill="#ff0055"/>
<circle cx="448.9" cy="175.5" r="2.40" fill="#ff0055"/>
<circle cx="530.4" cy="76.0" r="2.40" fill="#ff0055"/>
<circle cx="411.4" cy="49.6" r="2.40" fill="#ff0055"/>
<circle cx="493.4" cy="171.7" r="2.40" fill="#ff0055"/>
<circle cx="452.0" cy="235.5" r="2.40" fill="#4266e2"/>
<circle cx="439.6" cy="134.8" r="2.40" fill="#4266e2"/>
<circle cx="431.9" cy="138.4" r="2.40" fill="#1580f2"/>
<circle cx="452.4" cy="73.0" r="2.40" fill="#7a48cf"/>
<circle cx="356.0" cy="169.6" r="2.40" fill="#c8008f"/>
<circle cx="486.8" cy="171.2" r="2.40" fill="#7a48cf"/>
<circle cx="445.1" cy="39.9" r="2.40" fill="#4266e2"/>
<circle cx="449.6" cy="76.0" r="2.40" fill="#a81aa8"/>
<circle cx="473.5" cy="196.3" r="2.40" fill="#4266e2"/>
<circle cx="457.4" cy="209.1" r="2.40" fill="#7a48cf"/>
<circle cx="443.6" cy="76.0" r="2.40" fill="#7a48cf"/>
<circle cx="533.6" cy="44.8" r="2.40" fill="#7a48cf"/>
<circle cx="438.2" cy="144.0" r="2.40" fill="#ff0055"/>
<circle cx="453.7" cy="167.0" r="2.40" fill="#4266e2"/>
<circle cx="361.1" cy="231.9" r="2.40" fill="#ff0055"/>
<circle cx="444.4" cy="234.4" r="2.40" fill="#c8008f"/>
<circle cx="450.8" cy="44.8" r="2.40" fill="#ff0055"/>
<circle cx="465.0" cy="138.4" r="2.40" fill="#7a48cf"/>
<circle cx="477.5" cy="263.1" r="2.40" fill="#ff0055"/>
<circle cx="598.2" cy="169.6" r="2.40" fill="#ff0055"/>
<circle cx="444.4" cy="236.9" r="2.40" fill="#c8008f"/>
<circle cx="468.9" cy="167.0" r="2.40" fill="#7a48cf"/>
<circle cx="434.4" cy="74.7" r="2.40" fill="#1580f2"/>
<circle cx="465.1" cy="229.0" r="2.40" fill="#1580f2"/>
<circle cx="427.9" cy="78.4" r="2.40" fill="#7a48cf"/>
<circle cx="412.4" cy="107.2" r="2.40" fill="#ff0055"/>
<circle cx="523.6" cy="109.0" r="2.40" fill="#ff0055"/>
<circle cx="457.1" cy="267.0" r="2.40" fill="#ff0055"/>
<circle cx="429.7" cy="107.2" r="2.40" fill="#ff0055"/>
<circle cx="414.0" cy="41.8" r="2.40" fill="#7a48cf"/>
<circle cx="563.4" cy="44.8" r="2.40" fill="#7a48cf"/>
<circle cx="465.1" cy="138.4" r="2.40" fill="#7a48cf"/>
<circle cx="501.8" cy="200.8" r="2.40" fill="#a81aa8"/>
<circle cx="454.9" cy="73.0" r="2.40" fill="#a81aa8"/>
<circle cx="430.0" cy="73.1" r="2.40" fill="#ff0055"/>
<circle cx="444.5" cy="107.2" r="2.40" fill="#ff0055"/>
<circle cx="448.0" cy="150.0" r="2.40" fill="#1580f2"/>
<circle cx="443.3" cy="82.6" r="2.40" fill="#7a48cf"/>
<circle cx="523.6" cy="138.4" r="2.40" fill="#4266e2"/>
<circle cx="447.0" cy="325.5" r="2.40" fill="#7a48cf"/>
<circle cx="408.4" cy="231.9" r="2.40" fill="#ff0055"/>
<circle cx="434.7" cy="47.2" r="2.40" fill="#4266e2"/>
<circle cx="401.2" cy="107.2" r="2.40" fill="#ff0055"/>
<circle cx="451.9" cy="210.9" r="2.40" fill="#7a48cf"/>
<circle cx="439.1" cy="169.6" r="2.40" fill="#4266e2"/>
<circle cx="460.3" cy="221.5" r="2.40" fill="#4266e2"/>
<circle cx="465.1" cy="231.9" r="2.40" fill="#ff0055"/>
<circle cx="414.9" cy="71.5" r="2.40" fill="#1580f2"/>
<circle cx="392.7" cy="169.6" r="2.40" fill="#c8008f"/>
<circle cx="465.2" cy="294.3" r="2.40" fill="#4266e2"/>
<circle cx="498.4" cy="169.6" r="2.40" fill="#ff0055"/>
<circle cx="449.9" cy="235.5" r="2.40" fill="#7a48cf"/>
<circle cx="438.9" cy="47.3" r="2.40" fill="#4266e2"/>
<circle cx="481.1" cy="171.2" r="2.40" fill="#ff0055"/>
<circle cx="474.2" cy="136.3" r="2.40" fill="#4266e2"/>
<circle cx="471.4" cy="136.3" r="2.40" fill="#7a48cf"/>
<circle cx="457.9" cy="313.9" r="2.40" fill="#7a48cf"/>
<circle cx="523.6" cy="107.2" r="2.40" fill="#c8008f"/>
<circle cx="423.6" cy="41.9" r="2.40" fill="#a81aa8"/>
<circle cx="398.4" cy="325.5" r="2.40" fill="#c8008f"/>
<circle cx="475.4" cy="168.0" r="2.40" fill="#7a48cf"/>
<circle cx="454.1" cy="235.5" r="2.40" fill="#4266e2"/>
<circle cx="377.5" cy="138.4" r="2.40" fill="#ff0055"/>
<circle cx="390.4" cy="76.0" r="2.40" fill="#7a48cf"/>
<circle cx="442.0" cy="49.7" r="2.40" fill="#a81aa8"/>
<circle cx="406.3" cy="325.5" r="2.40" fill="#ff0055"/>
<circle cx="465.0" cy="142.0" r="2.40" fill="#ff0055"/>
<circle cx="437.3" cy="44.8" r="2.40" fill="#7a48cf"/>
<circle cx="462.7" cy="229.3" r="2.40" fill="#ff0055"/>
<circle cx="437.3" cy="42.4" r="2.40" fill="#4266e2"/>
<circle cx="493.9" cy="228.1" r="2.40" fill="#c8008f"/>
<circle cx="430.0" cy="69.0" r="2.40" fill="#ff0055"/>
<circle cx="462.7" cy="224.1" r="2.40" fill="#ff0055"/>
<circle cx="492.6" cy="138.4" r="2.40" fill="#7a48cf"/>
<circle cx="458.0" cy="306.4" r="2.40" fill="#1580f2"/>
<circle cx="421.9" cy="202.4" r="2.40" fill="#7a48cf"/>
<circle cx="430.6" cy="44.8" r="2.40" fill="#a81aa8"/>
<circle cx="444.4" cy="227.0" r="2.40" fill="#ff0055"/>
<circle cx="430.6" cy="78.4" r="2.40" fill="#7a48cf"/>
<circle cx="473.5" cy="205.2" r="2.40" fill="#4266e2"/>
<circle cx="453.6" cy="205.8" r="2.40" fill="#4266e2"/>
<circle cx="429.5" cy="49.6" r="2.40" fill="#ff0055"/>
<circle cx="472.1" cy="174.6" r="2.40" fill="#ff0055"/>
<circle cx="421.9" cy="36.2" r="2.40" fill="#7a48cf"/>
<circle cx="425.8" cy="78.1" r="2.40" fill="#7a48cf"/>
<circle cx="453.6" cy="193.1" r="2.40" fill="#4266e2"/>
<circle cx="515.0" cy="107.2" r="2.40" fill="#c8008f"/>
<circle cx="430.6" cy="49.9" r="2.40" fill="#ff0055"/>
<circle cx="457.5" cy="73.0" r="2.40" fill="#7a48cf"/>
<circle cx="430.0" cy="76.0" r="2.40" fill="#1580f2"/>
<circle cx="479.8" cy="138.4" r="2.40" fill="#ff0055"/>
<circle cx="414.9" cy="76.0" r="2.40" fill="#4266e2"/>
<circle cx="434.7" cy="44.8" r="2.40" fill="#4266e2"/>
<circle cx="475.2" cy="82.7" r="2.40" fill="#ff0055"/>
<circle cx="414.0" cy="44.8" r="2.40" fill="#ff0055"/>
<circle cx="428.4" cy="49.9" r="2.40" fill="#a81aa8"/>
<circle cx="452.0" cy="102.2" r="2.40" fill="#ff0055"/>
<circle cx="442.1" cy="229.4" r="2.40" fill="#ff0055"/>
<circle cx="464.6" cy="167.0" r="2.40" fill="#7a48cf"/>
<circle cx="479.8" cy="140.5" r="2.40" fill="#ff0055"/>
<circle cx="542.2" cy="44.8" r="2.40" fill="#ff0055"/>
<circle cx="615.8" cy="49.9" r="2.40" fill="#1580f2"/>
<circle cx="434.0" cy="231.9" r="2.40" fill="#7a48cf"/>
<circle cx="453.7" cy="159.1" r="2.40" fill="#4266e2"/>
<circle cx="418.0" cy="105.2" r="2.40" fill="#ff0055"/>
<circle cx="457.9" cy="324.2" r="2.40" fill="#7a48cf"/>
<circle cx="452.4" cy="79.0" r="2.40" fill="#4266e2"/>
<circle cx="468.4" cy="263.1" r="2.40" fill="#ff0055"/>
<circle cx="456.1" cy="163.6" r="2.40" fill="#7a48cf"/>
<circle cx="453.7" cy="169.6" r="2.40" fill="#ff0055"/>
<circle cx="435.1" cy="44.8" r="2.40" fill="#c8008f"/>
<circle cx="422.2" cy="72.4" r="2.40" fill="#ff0055"/>
<circle cx="438.4" cy="76.0" r="2.40" fill="#1580f2"/>
<circle cx="351.9" cy="231.9" r="2.40" fill="#ff0055"/>
<circle cx="442.1" cy="227.0" r="2.40" fill="#a81aa8"/>
<circle cx="558.5" cy="46.7" r="2.40" fill="#4266e2"/>
<circle cx="478.2" cy="169.6" r="2.40" fill="#7a48cf"/>
<circle cx="346.6" cy="231.9" r="2.40" fill="#ff0055"/>
<circle cx="446.4" cy="76.0" r="2.40" fill="#7a48cf"/>
<circle cx="416.6" cy="44.8" r="2.40" fill="#ff0055"/>
<circle cx="499.0" cy="107.2" r="2.40" fill="#ff0055"/>
<circle cx="413.2" cy="138.4" r="2.40" fill="#7a48cf"/>
<circle cx="496.3" cy="44.8" r="2.40" fill="#a81aa8"/>
<circle cx="421.2" cy="231.9" r="2.40" fill="#1580f2"/>
<circle cx="575.5" cy="76.0" r="2.40" fill="#7a48cf"/>
<circle cx="489.9" cy="76.0" r="2.40" fill="#4266e2"/>
<circle cx="478.4" cy="77.7" r="2.40" fill="#7a48cf"/>
<circle cx="448.9" cy="166.6" r="2.40" fill="#1580f2"/>
<circle cx="449.9" cy="228.3" r="2.40" fill="#7a48cf"/>
<circle cx="452.3" cy="138.4" r="2.40" fill="#4266e2"/>
<circle cx="473.0" cy="263.1" r="2.40" fill="#1580f2"/>
<circle cx="414.6" cy="200.8" r="2.40" fill="#1580f2"/>
<circle cx="414.0" cy="42.4" r="2.40" fill="#4266e2"/>
<circle cx="497.5" cy="76.0" r="2.40" fill="#1580f2"/>
<circle cx="617.0" cy="33.5" r="2.40" fill="#4266e2"/>
<circle cx="418.0" cy="101.2" r="2.40" fill="#ff0055"/>
<circle cx="429.3" cy="149.0" r="2.40" fill="#7a48cf"/>
<circle cx="394.5" cy="138.4" r="2.40" fill="#7a48cf"/>
<circle cx="483.4" cy="231.9" r="2.40" fill="#4266e2"/>
<circle cx="458.0" cy="290.3" r="2.40" fill="#1580f2"/>
<circle cx="458.0" cy="295.7" r="2.40" fill="#4266e2"/>
<circle cx="441.6" cy="173.2" r="2.40" fill="#7a48cf"/>
<circle cx="425.2" cy="233.5" r="2.40" fill="#ff0055"/>
<circle cx="472.1" cy="164.5" r="2.40" fill="#7a48cf"/>
<circle cx="354.6" cy="231.9" r="2.40" fill="#ff0055"/>
<circle cx="447.2" cy="134.8" r="2.40" fill="#7a48cf"/>
<circle cx="439.9" cy="44.8" r="2.40" fill="#a81aa8"/>
<circle cx="460.3" cy="242.4" r="2.40" fill="#1580f2"/>
<circle cx="425.8" cy="73.9" r="2.40" fill="#7a48cf"/>
<circle cx="479.1" cy="44.8" r="2.40" fill="#c8008f"/>
<circle cx="490.2" cy="46.4" r="2.40" fill="#4266e2"/>
<circle cx="615.8" cy="43.8" r="2.40" fill="#ff0055"/>
<circle cx="474.2" cy="140.5" r="2.40" fill="#7a48cf"/>
<circle cx="444.4" cy="239.4" r="2.40" fill="#7a48cf"/>
<circle cx="457.5" cy="294.3" r="2.40" fill="#1580f2"/>
<circle cx="474.6" cy="228.3" r="2.40" fill="#c8008f"/>
<circle cx="457.9" cy="332.0" r="2.40" fill="#1580f2"/>
<circle cx="509.4" cy="107.2" r="2.40" fill="#ff0055"/>
<circle cx="402.6" cy="138.4" r="2.40" fill="#7a48cf"/>
<circle cx="412.0" cy="231.9" r="2.40" fill="#ff0055"/>
<circle cx="421.8" cy="47.2" r="2.40" fill="#4266e2"/>
<circle cx="430.6" cy="47.3" r="2.40" fill="#4266e2"/>
<circle cx="415.7" cy="231.9" r="2.40" fill="#7a48cf"/>
<circle cx="445.1" cy="44.8" r="2.40" fill="#ff0055"/>
<circle cx="553.6" cy="44.8" r="2.40" fill="#ff0055"/>
<circle cx="445.8" cy="200.8" r="2.40" fill="#4266e2"/>
<circle cx="453.6" cy="198.2" r="2.40" fill="#1580f2"/>
<circle cx="483.3" cy="107.2" r="2.40" fill="#ff0055"/>
<circle cx="521.2" cy="200.8" r="2.40" fill="#1580f2"/>
<circle cx="478.4" cy="74.2" r="2.40" fill="#7a48cf"/>
<circle cx="457.9" cy="321.6" r="2.40" fill="#a81aa8"/>
<circle cx="403.6" cy="142.3" r="2.40" fill="#7a48cf"/>
<circle cx="437.0" cy="138.4" r="2.40" fill="#4266e2"/>
<circle cx="423.6" cy="39.1" r="2.40" fill="#ff0055"/>
<circle cx="437.6" cy="231.9" r="2.40" fill="#ff0055"/>
<circle cx="571.5" cy="77.6" r="2.40" fill="#4266e2"/>
<circle cx="477.0" cy="140.5" r="2.40" fill="#ff0055"/>
<circle cx="411.7" cy="325.5" r="2.40" fill="#4266e2"/>
<circle cx="388.4" cy="138.4" r="2.40" fill="#7a48cf"/>
<circle cx="397.6" cy="169.6" r="2.40" fill="#1580f2"/>
<circle cx="418.0" cy="111.2" r="2.40" fill="#7a48cf"/>
<circle cx="447.2" cy="138.4" r="2.40" fill="#7a48cf"/>
<circle cx="451.3" cy="169.6" r="2.40" fill="#4266e2"/>
<circle cx="438.4" cy="78.4" r="2.40" fill="#ff0055"/>
<circle cx="421.9" cy="44.8" r="2.40" fill="#4266e2"/>
<circle cx="442.0" cy="52.2" r="2.40" fill="#7a48cf"/>
<circle cx="422.7" cy="76.0" r="2.40" fill="#4266e2"/>
<circle cx="424.5" cy="200.8" r="2.40" fill="#4266e2"/>
<circle cx="423.6" cy="44.8" r="2.40" fill="#ff0055"/>
<circle cx="449.8" cy="134.8" r="2.40" fill="#a81aa8"/>
<circle cx="460.0" cy="134.8" r="2.40" fill="#1580f2"/>
<circle cx="569.4" cy="44.8" r="2.40" fill="#7a48cf"/>
<circle cx="468.5" cy="190.2" r="2.40" fill="#1580f2"/>
<circle cx="441.1" cy="69.4" r="2.40" fill="#a81aa8"/>
<circle cx="455.5" cy="325.5" r="2.40" fill="#a81aa8"/>
<circle cx="475.2" cy="65.4" r="2.40" fill="#4266e2"/>
<circle cx="428.4" cy="263.1" r="2.40" fill="#c8008f"/>
<circle cx="478.2" cy="171.2" r="2.40" fill="#ff0055"/>
<circle cx="457.9" cy="229.0" r="2.40" fill="#ff0055"/>
<circle cx="381.3" cy="138.4" r="2.40" fill="#7a48cf"/>
<circle cx="479.8" cy="263.1" r="2.40" fill="#c8008f"/>
<circle cx="462.5" cy="138.4" r="2.40" fill="#7a48cf"/>
<circle cx="371.8" cy="169.6" r="2.40" fill="#4266e2"/>
<circle cx="351.5" cy="138.4" r="2.40" fill="#4266e2"/>
<circle cx="441.6" cy="166.0" r="2.40" fill="#4266e2"/>
<circle cx="458.1" cy="132.6" r="2.40" fill="#7a48cf"/>
<circle cx="465.1" cy="234.9" r="2.40" fill="#ff0055"/>
<circle cx="523.6" cy="105.3" r="2.40" fill="#ff0055"/>
<circle cx="458.1" cy="138.4" r="2.40" fill="#4266e2"/>
<circle cx="502.6" cy="76.0" r="2.40" fill="#1580f2"/>
<circle cx="468.9" cy="169.6" r="2.40" fill="#ff0055"/>
<circle cx="421.4" cy="107.2" r="2.40" fill="#a81aa8"/>
<circle cx="542.3" cy="107.2" r="2.40" fill="#ff0055"/>
<circle cx="460.1" cy="255.2" r="2.40" fill="#1580f2"/>
<circle cx="451.9" cy="203.3" r="2.40" fill="#1580f2"/>
<circle cx="429.3" cy="129.9" r="2.40" fill="#ff0055"/>
<circle cx="460.3" cy="229.3" r="2.40" fill="#ff0055"/>
<circle cx="438.9" cy="52.2" r="2.40" fill="#ff0055"/>
<circle cx="488.6" cy="200.8" r="2.40" fill="#ff0055"/>
<circle cx="460.1" cy="260.5" r="2.40" fill="#ff0055"/>
<circle cx="460.1" cy="263.1" r="2.40" fill="#7a48cf"/>
<circle cx="453.6" cy="200.8" r="2.40" fill="#4266e2"/>
<circle cx="467.6" cy="134.8" r="2.40" fill="#4266e2"/>
<circle cx="425.3" cy="78.4" r="2.40" fill="#ff0055"/>
<circle cx="452.4" cy="260.8" r="2.40" fill="#ff0055"/>
<circle cx="443.3" cy="78.2" r="2.40" fill="#4266e2"/>
<circle cx="458.3" cy="325.5" r="2.40" fill="#ff0055"/>
<circle cx="486.2" cy="200.8" r="2.40" fill="#c8008f"/>
<circle cx="402.5" cy="76.0" r="2.40" fill="#ff0055"/>
<circle cx="474.8" cy="44.8" r="2.40" fill="#7a48cf"/>
<circle cx="563.6" cy="44.8" r="2.40" fill="#4266e2"/>
<circle cx="427.0" cy="44.8" r="2.40" fill="#a81aa8"/>
<circle cx="419.2" cy="49.6" r="2.40" fill="#7a48cf"/>
<circle cx="361.9" cy="231.9" r="2.40" fill="#ff0055"/>
<circle cx="441.0" cy="73.6" r="2.40" fill="#a81aa8"/>
<circle cx="464.2" cy="198.4" r="2.40" fill="#1580f2"/>
<circle cx="465.1" cy="134.8" r="2.40" fill="#7a48cf"/>
<circle cx="460.1" cy="265.8" r="2.40" fill="#c8008f"/>
<circle cx="558.5" cy="44.8" r="2.40" fill="#4266e2"/>
<circle cx="468.9" cy="174.6" r="2.40" fill="#7a48cf"/>
<circle cx="508.7" cy="200.8" r="2.40" fill="#a81aa8"/>
<circle cx="520.4" cy="105.3" r="2.40" fill="#ff0055"/>
<circle cx="452.0" cy="116.2" r="2.40" fill="#7a48cf"/>
<circle cx="418.0" cy="109.2" r="2.40" fill="#a81aa8"/>
<circle cx="460.1" cy="76.0" r="2.40" fill="#a81aa8"/>
<circle cx="442.0" cy="42.3" r="2.40" fill="#ff0055"/>
<circle cx="321.5" cy="169.6" r="2.40" fill="#c8008f"/>
<circle cx="341.3" cy="231.9" r="2.40" fill="#4266e2"/>
<circle cx="427.9" cy="76.0" r="2.40" fill="#1580f2"/>
<circle cx="457.1" cy="259.3" r="2.40" fill="#ff0055"/>
<circle cx="575.5" cy="72.4" r="2.40" fill="#1580f2"/>
<circle cx="526.6" cy="169.6" r="2.40" fill="#7a48cf"/>
<circle cx="442.4" cy="107.2" r="2.40" fill="#ff0055"/>
<circle cx="439.9" cy="235.1" r="2.40" fill="#ff0055"/>
<circle cx="442.5" cy="40.0" r="2.40" fill="#7a48cf"/>
<circle cx="452.4" cy="294.3" r="2.40" fill="#1580f2"/>
<circle cx="444.4" cy="224.5" r="2.40" fill="#c8008f"/>
<circle cx="469.5" cy="107.2" r="2.40" fill="#ff0055"/>
<circle cx="438.9" cy="37.4" r="2.40" fill="#7a48cf"/>
<circle cx="423.8" cy="138.4" r="2.40" fill="#4266e2"/>
<circle cx="343.9" cy="231.9" r="2.40" fill="#7a48cf"/>
<circle cx="571.5" cy="74.4" r="2.40" fill="#a81aa8"/>
<circle cx="337.0" cy="169.6" r="2.40" fill="#c8008f"/>
<circle cx="387.6" cy="231.9" r="2.40" fill="#ff0055"/>
<circle cx="446.6" cy="235.1" r="2.40" fill="#ff0055"/>
<circle cx="421.8" cy="42.4" r="2.40" fill="#4266e2"/>
<circle cx="507.6" cy="76.0" r="2.40" fill="#7a48cf"/>
<circle cx="454.9" cy="138.4" r="2.40" fill="#7a48cf"/>
<circle cx="411.4" cy="42.4" r="2.40" fill="#ff0055"/>
<circle cx="483.3" cy="105.2" r="2.40" fill="#ff0055"/>
<circle cx="432.9" cy="39.7" r="2.40" fill="#ff0055"/>
<circle cx="468.9" cy="172.1" r="2.40" fill="#ff0055"/>
<circle cx="431.2" cy="263.1" r="2.40" fill="#ff0055"/>
<circle cx="444.1" cy="200.8" r="2.40" fill="#7a48cf"/>
<circle cx="460.6" cy="192.4" r="2.40" fill="#ff0055"/>
<circle cx="506.4" cy="203.6" r="2.40" fill="#7a48cf"/>
<circle cx="418.1" cy="73.7" r="2.40" fill="#4266e2"/>
<circle cx="534.6" cy="107.2" r="2.40" fill="#a81aa8"/>
<circle cx="390.2" cy="138.4" r="2.40" fill="#7a48cf"/>
<circle cx="472.1" cy="177.2" r="2.40" fill="#a81aa8"/>
<circle cx="434.4" cy="77.3" r="2.40" fill="#1580f2"/>
<circle cx="615.8" cy="54.0" r="2.40" fill="#ff0055"/>
<circle cx="457.4" cy="142.0" r="2.40" fill="#1580f2"/>
<circle cx="439.6" cy="263.1" r="2.40" fill="#ff0055"/>
<circle cx="467.6" cy="142.0" r="2.40" fill="#7a48cf"/>
<circle cx="428.5" cy="231.9" r="2.40" fill="#ff0055"/>
<circle cx="483.9" cy="169.6" r="2.40" fill="#ff0055"/>
<circle cx="457.9" cy="329.4" r="2.40" fill="#4266e2"/>
<circle cx="464.2" cy="203.1" r="2.40" fill="#1580f2"/>
<circle cx="531.8" cy="107.2" r="2.40" fill="#c8008f"/>
<circle cx="494.2" cy="44.8" r="2.40" fill="#7a48cf"/>
<circle cx="478.2" cy="198.2" r="2.40" fill="#c8008f"/>
<circle cx="422.1" cy="138.4" r="2.40" fill="#1580f2"/>
<circle cx="430.0" cy="75.0" r="2.40" fill="#1580f2"/>
<circle cx="416.7" cy="138.4" r="2.40" fill="#1580f2"/>
<circle cx="520.4" cy="107.2" r="2.40" fill="#c8008f"/>
<circle cx="424.2" cy="107.2" r="2.40" fill="#a81aa8"/>
<circle cx="617.0" cy="56.1" r="2.40" fill="#ff0055"/>
<circle cx="417.1" cy="50.7" r="2.40" fill="#7a48cf"/>
<circle cx="325.7" cy="169.6" r="2.40" fill="#c8008f"/>
<circle cx="431.9" cy="142.0" r="2.40" fill="#4266e2"/>
<circle cx="457.1" cy="263.1" r="2.40" fill="#ff0055"/>
<circle cx="425.6" cy="107.2" r="2.40" fill="#7a48cf"/>
<circle cx="490.0" cy="138.4" r="2.40" fill="#7a48cf"/>
<circle cx="489.6" cy="168.0" r="2.40" fill="#4266e2"/>
<circle cx="453.6" cy="190.6" r="2.40" fill="#1580f2"/>
<circle cx="476.7" cy="235.5" r="2.40" fill="#ff0055"/>
<circle cx="416.4" cy="325.5" r="2.40" fill="#ff0055"/>
<circle cx="452.0" cy="104.2" r="2.40" fill="#ff0055"/>
<circle cx="439.9" cy="225.6" r="2.40" fill="#ff0055"/>
<circle cx="482.6" cy="136.3" r="2.40" fill="#7a48cf"/>
<circle cx="457.5" cy="76.0" r="2.40" fill="#a81aa8"/>
<circle cx="337.7" cy="138.4" r="2.40" fill="#ff0055"/>
<circle cx="490.2" cy="44.8" r="2.40" fill="#7a48cf"/>
<circle cx="425.2" cy="231.9" r="2.40" fill="#ff0055"/>
<circle cx="413.6" cy="107.2" r="2.40" fill="#ff0055"/>
<circle cx="409.5" cy="200.8" r="2.40" fill="#7a48cf"/>
<circle cx="460.3" cy="224.1" r="2.40" fill="#ff0055"/>
<circle cx="424.4" cy="49.6" r="2.40" fill="#7a48cf"/>
<circle cx="466.4" cy="110.2" r="2.40" fill="#7a48cf"/>
<circle cx="602.1" cy="169.6" r="2.40" fill="#c8008f"/>
<circle cx="493.9" cy="235.8" r="2.40" fill="#c8008f"/>
<circle cx="446.6" cy="173.2" r="2.40" fill="#a81aa8"/>
<circle cx="481.4" cy="231.9" r="2.40" fill="#ff0055"/>
<circle cx="468.5" cy="203.4" r="2.40" fill="#1580f2"/>
<circle cx="427.0" cy="49.6" r="2.40" fill="#7a48cf"/>
<circle cx="417.1" cy="41.8" r="2.40" fill="#4266e2"/>
<circle cx="483.3" cy="109.2" r="2.40" fill="#c8008f"/>
<circle cx="475.2" cy="67.3" r="2.40" fill="#1580f2"/>
<circle cx="416.6" cy="40.0" r="2.40" fill="#7a48cf"/>
<circle cx="359.6" cy="169.6" r="2.40" fill="#c8008f"/>
<circle cx="436.8" cy="263.1" r="2.40" fill="#c8008f"/>
<circle cx="496.6" cy="171.7" r="2.40" fill="#ff0055"/>
<circle cx="369.8" cy="138.4" r="2.40" fill="#7a48cf"/>
<circle cx="465.1" cy="226.0" r="2.40" fill="#4266e2"/>
<circle cx="451.3" cy="180.0" r="2.40" fill="#1580f2"/>
<circle cx="540.5" cy="76.0" r="2.40" fill="#a81aa8"/>
<circle cx="425.3" cy="73.6" r="2.40" fill="#ff0055"/>
<circle cx="617.0" cy="39.7" r="2.40" fill="#4266e2"/>
<circle cx="438.9" cy="44.8" r="2.40" fill="#4266e2"/>
<circle cx="357.6" cy="169.6" r="2.40" fill="#a81aa8"/>
<circle cx="443.0" cy="135.8" r="2.40" fill="#4266e2"/>
<circle cx="451.3" cy="177.4" r="2.40" fill="#7a48cf"/>
<circle cx="423.6" cy="36.2" r="2.40" fill="#7a48cf"/>
<circle cx="615.8" cy="45.8" r="2.40" fill="#7a48cf"/>
<circle cx="448.0" cy="143.0" r="2.40" fill="#7a48cf"/>
<circle cx="451.9" cy="195.7" r="2.40" fill="#1580f2"/>
<circle cx="446.6" cy="105.7" r="2.40" fill="#ff0055"/>
<circle cx="462.6" cy="79.0" r="2.40" fill="#7a48cf"/>
<circle cx="481.0" cy="107.2" r="2.40" fill="#ff0055"/>
<circle cx="458.0" cy="301.0" r="2.40" fill="#ff0055"/>
<circle cx="403.6" cy="138.4" r="2.40" fill="#7a48cf"/>
<circle cx="400.8" cy="138.4" r="2.40" fill="#7a48cf"/>
<circle cx="448.6" cy="263.1" r="2.40" fill="#7a48cf"/>
<circle cx="411.4" cy="40.0" r="2.40" fill="#ff0055"/>
<circle cx="521.1" cy="169.6" r="2.40" fill="#7a48cf"/>
<circle cx="581.0" cy="44.8" r="2.40" fill="#e0106a"/>
<circle cx="436.8" cy="103.4" r="2.40" fill="#ff0055"/>
<circle cx="518.6" cy="200.8" r="2.40" fill="#4266e2"/>
<circle cx="442.0" cy="39.9" r="2.40" fill="#1580f2"/>
<circle cx="473.5" cy="198.6" r="2.40" fill="#7a48cf"/>
<circle cx="366.9" cy="169.6" r="2.40" fill="#a81aa8"/>
<circle cx="594.3" cy="76.0" r="2.40" fill="#1580f2"/>
<circle cx="472.6" cy="325.5" r="2.40" fill="#4266e2"/>
<circle cx="394.6" cy="76.0" r="2.40" fill="#7a48cf"/>
<circle cx="518.4" cy="138.4" r="2.40" fill="#4266e2"/>
<circle cx="458.0" cy="293.0" r="2.40" fill="#1580f2"/>
<circle cx="483.4" cy="44.8" r="2.40" fill="#ff0055"/>
<circle cx="446.6" cy="166.0" r="2.40" fill="#7a48cf"/>
<circle cx="457.4" cy="189.7" r="2.40" fill="#ff0055"/>
<circle cx="481.0" cy="105.1" r="2.40" fill="#ff0055"/>
<circle cx="460.3" cy="234.5" r="2.40" fill="#c8008f"/>
<circle cx="513.3" cy="138.4" r="2.40" fill="#1580f2"/>
<circle cx="496.6" cy="228.1" r="2.40" fill="#c8008f"/>
<circle cx="470.6" cy="76.0" r="2.40" fill="#1580f2"/>
<circle cx="472.1" cy="172.1" r="2.40" fill="#ff0055"/>
<circle cx="414.9" cy="80.5" r="2.40" fill="#4266e2"/>
<circle cx="400.4" cy="76.0" r="2.40" fill="#7a48cf"/>
<circle cx="520.0" cy="44.8" r="2.40" fill="#ff0055"/>
<circle cx="427.0" cy="42.4" r="2.40" fill="#7a48cf"/>
<circle cx="452.6" cy="325.5" r="2.40" fill="#c8008f"/>
<circle cx="354.3" cy="138.4" r="2.40" fill="#1580f2"/>
<circle cx="452.0" cy="108.2" r="2.40" fill="#c8008f"/>
<circle cx="446.6" cy="169.6" r="2.40" fill="#7a48cf"/>
<circle cx="463.9" cy="325.5" r="2.40" fill="#ff0055"/>
<circle cx="351.7" cy="169.6" r="2.40" fill="#c8008f"/>
<circle cx="514.6" cy="44.8" r="2.40" fill="#ff0055"/>
<circle cx="435.8" cy="78.4" r="2.40" fill="#4266e2"/>
<circle cx="435.8" cy="231.9" r="2.40" fill="#ff0055"/>
<circle cx="615.8" cy="35.6" r="2.40" fill="#1580f2"/>
<circle cx="592.3" cy="44.8" r="2.40" fill="#e0106a"/>
<circle cx="479.8" cy="136.3" r="2.40" fill="#ff0055"/>
<circle cx="439.9" cy="231.9" r="2.40" fill="#c8008f"/>
<circle cx="482.6" cy="76.0" r="2.40" fill="#7a48cf"/>
<circle cx="438.2" cy="141.2" r="2.40" fill="#ff0055"/>
<circle cx="453.0" cy="138.4" r="2.40" fill="#7a48cf"/>
<circle cx="361.2" cy="138.4" r="2.40" fill="#1580f2"/>
<circle cx="447.3" cy="294.3" r="2.40" fill="#4266e2"/>
<circle cx="430.6" cy="42.2" r="2.40" fill="#c8008f"/>
<circle cx="434.4" cy="113.2" r="2.40" fill="#ff0055"/>
<circle cx="473.5" cy="194.2" r="2.40" fill="#4266e2"/>
<circle cx="429.3" cy="142.6" r="2.40" fill="#4266e2"/>
<circle cx="432.1" cy="47.2" r="2.40" fill="#4266e2"/>
<circle cx="464.6" cy="172.2" r="2.40" fill="#7a48cf"/>
<circle cx="448.4" cy="44.8" r="2.40" fill="#c8008f"/>
<circle cx="453.7" cy="174.8" r="2.40" fill="#7a48cf"/>
<circle cx="420.1" cy="76.0" r="2.40" fill="#ff0055"/>
<circle cx="414.9" cy="78.3" r="2.40" fill="#7a48cf"/>
<circle cx="451.3" cy="159.1" r="2.40" fill="#7a48cf"/>
<circle cx="421.8" cy="44.8" r="2.40" fill="#ff0055"/>
<circle cx="558.5" cy="42.9" r="2.40" fill="#7a48cf"/>
<circle cx="439.1" cy="105.7" r="2.40" fill="#ff0055"/>
<circle cx="451.9" cy="205.8" r="2.40" fill="#4266e2"/>
<circle cx="424.5" cy="203.6" r="2.40" fill="#7a48cf"/>
<circle cx="443.0" cy="141.0" r="2.40" fill="#7a48cf"/>
<circle cx="476.7" cy="231.9" r="2.40" fill="#ff0055"/>
<circle cx="444.4" cy="231.9" r="2.40" fill="#ff0055"/>
<circle cx="459.4" cy="167.0" r="2.40" fill="#c8008f"/>
<circle cx="448.0" cy="138.4" r="2.40" fill="#1580f2"/>
<circle cx="437.6" cy="76.0" r="2.40" fill="#1580f2"/>
<circle cx="475.2" cy="78.9" r="2.40" fill="#a81aa8"/>
<circle cx="403.6" cy="140.3" r="2.40" fill="#7a48cf"/>
<circle cx="422.2" cy="79.6" r="2.40" fill="#a81aa8"/>
<circle cx="323.6" cy="169.6" r="2.40" fill="#ff0055"/>
<circle cx="457.4" cy="200.8" r="2.40" fill="#7a48cf"/>
<circle cx="429.5" cy="42.4" r="2.40" fill="#7a48cf"/>
<circle cx="496.6" cy="231.9" r="2.40" fill="#ff0055"/>
<circle cx="418.1" cy="76.0" r="2.40" fill="#1580f2"/>
<circle cx="424.4" cy="40.0" r="2.40" fill="#ff0055"/>
<circle cx="489.6" cy="171.2" r="2.40" fill="#7a48cf"/>
<circle cx="452.4" cy="263.1" r="2.40" fill="#7a48cf"/>
<circle cx="443.3" cy="71.6" r="2.40" fill="#7a48cf"/>
<circle cx="462.7" cy="242.4" r="2.40" fill="#ff0055"/>
<circle cx="504.1" cy="199.0" r="2.40" fill="#7a48cf"/>
<circle cx="355.6" cy="169.6" r="2.40" fill="#c8008f"/>
<circle cx="429.9" cy="325.5" r="2.40" fill="#1580f2"/>
<circle cx="467.6" cy="134.8" r="2.40" fill="#7a48cf"/>
<circle cx="472.6" cy="107.2" r="2.40" fill="#ff0055"/>
<circle cx="523.4" cy="107.2" r="2.40" fill="#c8008f"/>
<circle cx="429.3" cy="134.1" r="2.40" fill="#7a48cf"/>
<circle cx="504.1" cy="202.5" r="2.40" fill="#a81aa8"/>
<circle cx="601.3" cy="76.0" r="2.40" fill="#7a48cf"/>
<circle cx="493.4" cy="167.4" r="2.40" fill="#ff0055"/>
<circle cx="442.3" cy="200.8" r="2.40" fill="#7a48cf"/>
<circle cx="418.1" cy="71.5" r="2.40" fill="#1580f2"/>
<circle cx="452.0" cy="106.2" r="2.40" fill="#ff0055"/>
<circle cx="442.1" cy="234.4" r="2.40" fill="#ff0055"/>
<circle cx="385.5" cy="231.9" r="2.40" fill="#7a48cf"/>
<circle cx="453.6" cy="203.3" r="2.40" fill="#7a48cf"/>
<circle cx="483.9" cy="168.0" r="2.40" fill="#7a48cf"/>
<circle cx="458.0" cy="284.9" r="2.40" fill="#1580f2"/>
<circle cx="442.5" cy="47.2" r="2.40" fill="#7a48cf"/>
<circle cx="335.2" cy="169.6" r="2.40" fill="#a81aa8"/>
<circle cx="429.5" cy="44.8" r="2.40" fill="#7a48cf"/>
<circle cx="308.9" cy="200.8" r="2.40" fill="#ff0055"/>
<circle cx="507.4" cy="169.6" r="2.40" fill="#4266e2"/>
<circle cx="457.9" cy="231.9" r="2.40" fill="#ff0055"/>
<circle cx="476.4" cy="107.2" r="2.40" fill="#c8008f"/>
<circle cx="445.1" cy="49.7" r="2.40" fill="#ff0055"/>
<circle cx="401.9" cy="231.9" r="2.40" fill="#a81aa8"/>
<circle cx="615.8" cy="56.1" r="2.40" fill="#ff0055"/>
<circle cx="462.7" cy="231.9" r="2.40" fill="#ff0055"/>
<circle cx="434.5" cy="142.0" r="2.40" fill="#ff0055"/>
<circle cx="617.0" cy="52.0" r="2.40" fill="#7a48cf"/>
<circle cx="525.4" cy="76.0" r="2.40" fill="#4266e2"/>
<circle cx="617.0" cy="41.7" r="2.40" fill="#ff0055"/>
<circle cx="489.6" cy="231.9" r="2.40" fill="#c8008f"/>
<circle cx="444.1" cy="169.6" r="2.40" fill="#7a48cf"/>
<circle cx="472.1" cy="162.0" r="2.40" fill="#a81aa8"/>
<circle cx="468.9" cy="177.2" r="2.40" fill="#ff0055"/>
<circle cx="418.0" cy="103.2" r="2.40" fill="#ff0055"/>
<circle cx="434.0" cy="134.8" r="2.40" fill="#a81aa8"/>
<circle cx="615.8" cy="33.5" r="2.40" fill="#4266e2"/>
<circle cx="430.6" cy="76.0" r="2.40" fill="#1580f2"/>
<circle cx="459.5" cy="259.3" r="2.40" fill="#c8008f"/>
<circle cx="575.5" cy="74.2" r="2.40" fill="#4266e2"/>
<circle cx="449.6" cy="77.5" r="2.40" fill="#ff0055"/>
<circle cx="422.7" cy="78.4" r="2.40" fill="#4266e2"/>
<circle cx="446.6" cy="228.8" r="2.40" fill="#ff0055"/>
<circle cx="429.7" cy="108.7" r="2.40" fill="#ff0055"/>
<circle cx="457.4" cy="203.5" r="2.40" fill="#a81aa8"/>
<circle cx="462.6" cy="73.0" r="2.40" fill="#7a48cf"/>
<circle cx="444.1" cy="173.2" r="2.40" fill="#4266e2"/>
<circle cx="482.0" cy="44.8" r="2.40" fill="#ff0055"/>
<circle cx="517.8" cy="107.2" r="2.40" fill="#a81aa8"/>
<circle cx="615.8" cy="41.7" r="2.40" fill="#ff0055"/>
<circle cx="460.0" cy="142.0" r="2.40" fill="#7a48cf"/>
<circle cx="474.2" cy="138.4" r="2.40" fill="#4266e2"/>
<circle cx="453.2" cy="44.8" r="2.40" fill="#c8008f"/>
<circle cx="430.0" cy="84.6" r="2.40" fill="#4266e2"/>
<circle cx="391.7" cy="231.9" r="2.40" fill="#ff0055"/>
<circle cx="414.0" cy="47.2" r="2.40" fill="#ff0055"/>
<circle cx="435.8" cy="76.0" r="2.40" fill="#1580f2"/>
<circle cx="468.5" cy="231.9" r="2.40" fill="#7a48cf"/>
<circle cx="458.1" cy="141.2" r="2.40" fill="#7a48cf"/>
<circle cx="462.5" cy="134.8" r="2.40" fill="#4266e2"/>
<circle cx="453.7" cy="172.2" r="2.40" fill="#1580f2"/>
<circle cx="478.7" cy="107.2" r="2.40" fill="#ff0055"/>
<circle cx="432.9" cy="47.3" r="2.40" fill="#ff0055"/>
<circle cx="515.8" cy="138.4" r="2.40" fill="#1580f2"/>
<circle cx="408.6" cy="76.0" r="2.40" fill="#1580f2"/>
<circle cx="454.8" cy="263.1" r="2.40" fill="#7a48cf"/>
<circle cx="462.0" cy="110.0" r="2.40" fill="#ff0055"/>
<circle cx="421.9" cy="47.7" r="2.40" fill="#4266e2"/>
<circle cx="449.8" cy="138.4" r="2.40" fill="#4266e2"/>
<circle cx="441.1" cy="78.2" r="2.40" fill="#4266e2"/>
<circle cx="508.7" cy="202.5" r="2.40" fill="#c8008f"/>
<circle cx="370.4" cy="294.3" r="2.40" fill="#4266e2"/>
<circle cx="460.1" cy="257.8" r="2.40" fill="#4266e2"/>
<circle cx="520.6" cy="107.2" r="2.40" fill="#ff0055"/>
<circle cx="449.8" cy="325.5" r="2.40" fill="#7a48cf"/>
<circle cx="379.4" cy="138.4" r="2.40" fill="#a81aa8"/>
<circle cx="434.0" cy="263.1" r="2.40" fill="#ff0055"/>
<circle cx="444.5" cy="105.4" r="2.40" fill="#ff0055"/>
<circle cx="429.7" cy="105.7" r="2.40" fill="#ff0055"/>
<circle cx="442.4" cy="108.7" r="2.40" fill="#ff0055"/>
<circle cx="431.9" cy="134.8" r="2.40" fill="#4266e2"/>
<circle cx="502.9" cy="138.4" r="2.40" fill="#7a48cf"/>
<circle cx="420.6" cy="169.6" r="2.40" fill="#c8008f"/>
<circle cx="535.5" cy="76.0" r="2.40" fill="#7a48cf"/>
<circle cx="442.1" cy="231.9" r="2.40" fill="#ff0055"/>
<circle cx="400.4" cy="169.6" r="2.40" fill="#c8008f"/>
<circle cx="601.0" cy="77.8" r="2.40" fill="#4266e2"/>
<circle cx="451.9" cy="190.6" r="2.40" fill="#1580f2"/>
<circle cx="438.4" cy="73.6" r="2.40" fill="#4266e2"/>
<circle cx="435.1" cy="42.2" r="2.40" fill="#a81aa8"/>
<circle cx="438.2" cy="138.4" r="2.40" fill="#4266e2"/>
<circle cx="421.9" cy="41.9" r="2.40" fill="#ff0055"/>
<circle cx="414.0" cy="38.9" r="2.40" fill="#1580f2"/>
<circle cx="404.0" cy="325.5" r="2.40" fill="#ff0055"/>
<circle cx="457.4" cy="134.8" r="2.40" fill="#a81aa8"/>
<circle cx="414.0" cy="49.6" r="2.40" fill="#7a48cf"/>
<circle cx="434.5" cy="134.8" r="2.40" fill="#7a48cf"/>
<circle cx="462.7" cy="221.5" r="2.40" fill="#c8008f"/>
<circle cx="520.3" cy="76.0" r="2.40" fill="#7a48cf"/>
<circle cx="458.1" cy="144.1" r="2.40" fill="#7a48cf"/>
<circle cx="429.3" cy="132.0" r="2.40" fill="#ff0055"/>
<circle cx="416.6" cy="47.2" r="2.40" fill="#ff0055"/>
<circle cx="413.3" cy="139.8" r="2.40" fill="#4266e2"/>
<circle cx="478.7" cy="109.2" r="2.40" fill="#ff0055"/>
<circle cx="427.1" cy="199.1" r="2.40" fill="#4266e2"/>
<circle cx="418.9" cy="325.5" r="2.40" fill="#ff0055"/>
<circle cx="459.4" cy="172.2" r="2.40" fill="#ff0055"/>
<circle cx="472.5" cy="235.5" r="2.40" fill="#c8008f"/>
<circle cx="421.9" cy="199.1" r="2.40" fill="#7a48cf"/>
<circle cx="451.9" cy="208.4" r="2.40" fill="#4266e2"/>
<circle cx="460.3" cy="239.8" r="2.40" fill="#4266e2"/>
<circle cx="460.6" cy="203.5" r="2.40" fill="#ff0055"/>
<circle cx="452.0" cy="110.2" r="2.40" fill="#ff0055"/>
<circle cx="482.6" cy="140.5" r="2.40" fill="#4266e2"/>
<circle cx="487.6" cy="231.9" r="2.40" fill="#ff0055"/>
<circle cx="444.4" cy="229.4" r="2.40" fill="#ff0055"/>
<circle cx="462.6" cy="76.0" r="2.40" fill="#ff0055"/>
<circle cx="462.6" cy="294.3" r="2.40" fill="#1580f2"/>
<circle cx="462.0" cy="169.6" r="2.40" fill="#c8008f"/>
<circle cx="442.0" cy="37.4" r="2.40" fill="#1580f2"/>
<circle cx="508.5" cy="137.0" r="2.40" fill="#4266e2"/>
<circle cx="444.4" cy="263.1" r="2.40" fill="#4266e2"/>
<circle cx="426.6" cy="231.9" r="2.40" fill="#ff0055"/>
<circle cx="504.1" cy="200.8" r="2.40" fill="#7a48cf"/>
<circle cx="460.6" cy="195.2" r="2.40" fill="#ff0055"/>
<circle cx="432.1" cy="40.0" r="2.40" fill="#4266e2"/>
<circle cx="424.2" cy="169.6" r="2.40" fill="#c8008f"/>
<circle cx="480.4" cy="76.0" r="2.40" fill="#ff0055"/>
<circle cx="393.7" cy="138.4" r="2.40" fill="#7a48cf"/>
<circle cx="436.8" cy="110.9" r="2.40" fill="#ff0055"/>
<circle cx="410.9" cy="47.8" r="2.40" fill="#a81aa8"/>
<circle cx="410.9" cy="44.8" r="2.40" fill="#4266e2"/>
<circle cx="445.1" cy="44.8" r="2.40" fill="#7a48cf"/>
<circle cx="443.3" cy="80.4" r="2.40" fill="#7a48cf"/>
<circle cx="441.1" cy="71.6" r="2.40" fill="#a81aa8"/>
<circle cx="405.3" cy="169.6" r="2.40" fill="#c8008f"/>
<circle cx="442.5" cy="49.6" r="2.40" fill="#7a48cf"/>
<circle cx="462.0" cy="107.2" r="2.40" fill="#ff0055"/>
<circle cx="410.9" cy="38.9" r="2.40" fill="#7a48cf"/>
<circle cx="438.2" cy="132.8" r="2.40" fill="#ff0055"/>
<circle cx="447.2" cy="142.0" r="2.40" fill="#a81aa8"/>
<circle cx="419.2" cy="47.2" r="2.40" fill="#ff0055"/>
<circle cx="460.1" cy="273.7" r="2.40" fill="#ff0055"/>
<circle cx="389.6" cy="231.9" r="2.40" fill="#ff0055"/>
<circle cx="441.1" cy="73.8" r="2.40" fill="#ff0055"/>
<circle cx="521.0" cy="138.4" r="2.40" fill="#1580f2"/>
<circle cx="475.2" cy="86.6" r="2.40" fill="#7a48cf"/>
<circle cx="464.2" cy="205.3" r="2.40" fill="#c8008f"/>
<circle cx="452.0" cy="114.2" r="2.40" fill="#4266e2"/>
<circle cx="416.6" cy="49.6" r="2.40" fill="#4266e2"/>
<circle cx="473.5" cy="207.3" r="2.40" fill="#1580f2"/>
<circle cx="427.0" cy="40.0" r="2.40" fill="#ff0055"/>
<circle cx="442.1" cy="138.4" r="2.40" fill="#1580f2"/>
<circle cx="482.1" cy="263.1" r="2.40" fill="#ff0055"/>
<circle cx="523.9" cy="200.8" r="2.40" fill="#4266e2"/>
<circle cx="437.0" cy="142.0" r="2.40" fill="#4266e2"/>
<circle cx="529.0" cy="107.2" r="2.40" fill="#ff0055"/>
<circle cx="495.2" cy="138.4" r="2.40" fill="#a81aa8"/>
<circle cx="404.9" cy="171.5" r="2.40" fill="#c8008f"/>
<circle cx="453.0" cy="142.0" r="2.40" fill="#4266e2"/>
<circle cx="452.4" cy="76.0" r="2.40" fill="#7a48cf"/>
<circle cx="430.3" cy="231.9" r="2.40" fill="#c8008f"/>
<circle cx="434.4" cy="104.2" r="2.40" fill="#c8008f"/>
<circle cx="446.6" cy="225.6" r="2.40" fill="#ff0055"/>
<circle cx="418.1" cy="78.3" r="2.40" fill="#1580f2"/>
<circle cx="389.5" cy="169.6" r="2.40" fill="#c8008f"/>
<circle cx="539.4" cy="44.8" r="2.40" fill="#a81aa8"/>
<circle cx="443.6" cy="78.4" r="2.40" fill="#7a48cf"/>
<circle cx="468.5" cy="229.8" r="2.40" fill="#7a48cf"/>
<circle cx="425.6" cy="138.4" r="2.40" fill="#1580f2"/>
<circle cx="475.2" cy="75.0" r="2.40" fill="#7a48cf"/>
<circle cx="421.9" cy="53.4" r="2.40" fill="#a81aa8"/>
<circle cx="438.9" cy="49.7" r="2.40" fill="#ff0055"/>
<circle cx="462.7" cy="239.8" r="2.40" fill="#c8008f"/>
<circle cx="457.4" cy="195.2" r="2.40" fill="#1580f2"/>
<circle cx="483.9" cy="171.2" r="2.40" fill="#ff0055"/>
<circle cx="373.6" cy="138.4" r="2.40" fill="#ff0055"/>
<circle cx="445.1" cy="47.3" r="2.40" fill="#7a48cf"/>
<circle cx="424.4" cy="42.4" r="2.40" fill="#4266e2"/>
<circle cx="575.5" cy="79.6" r="2.40" fill="#c8008f"/>
<circle cx="401.2" cy="109.5" r="2.40" fill="#ff0055"/>
<circle cx="418.5" cy="138.4" r="2.40" fill="#4266e2"/>
<circle cx="462.4" cy="44.8" r="2.40" fill="#7a48cf"/>
<circle cx="381.4" cy="231.9" r="2.40" fill="#1580f2"/>
<circle cx="462.7" cy="237.2" r="2.40" fill="#ff0055"/>
<circle cx="433.2" cy="73.6" r="2.40" fill="#4266e2"/>
<circle cx="445.1" cy="37.4" r="2.40" fill="#a81aa8"/>
<circle cx="475.2" cy="73.1" r="2.40" fill="#4266e2"/>
<circle cx="437.0" cy="134.8" r="2.40" fill="#4266e2"/>
<circle cx="432.1" cy="231.9" r="2.40" fill="#7a48cf"/>
<circle cx="410.0" cy="263.1" r="2.40" fill="#ff0055"/>
<circle cx="503.6" cy="107.2" r="2.40" fill="#c8008f"/>
<circle cx="456.1" cy="166.6" r="2.40" fill="#ff0055"/>
<circle cx="452.0" cy="118.2" r="2.40" fill="#ff0055"/>
<circle cx="494.4" cy="107.2" r="2.40" fill="#ff0055"/>
<circle cx="457.9" cy="226.0" r="2.40" fill="#c8008f"/>
<circle cx="414.0" cy="47.8" r="2.40" fill="#ff0055"/>
<circle cx="617.0" cy="49.9" r="2.40" fill="#4266e2"/>
<circle cx="615.8" cy="52.0" r="2.40" fill="#4266e2"/>
<circle cx="423.6" cy="53.4" r="2.40" fill="#ff0055"/>
<circle cx="523.9" cy="169.6" r="2.40" fill="#4266e2"/>
<circle cx="477.0" cy="44.8" r="2.40" fill="#a81aa8"/>
<circle cx="395.8" cy="231.9" r="2.40" fill="#ff0055"/>
<circle cx="453.7" cy="177.4" r="2.40" fill="#7a48cf"/>
<circle cx="550.4" cy="76.0" r="2.40" fill="#7a48cf"/>
<circle cx="443.3" cy="73.8" r="2.40" fill="#7a48cf"/>
<circle cx="457.9" cy="326.8" r="2.40" fill="#7a48cf"/>
<circle cx="478.7" cy="105.2" r="2.40" fill="#c8008f"/>
<circle cx="439.1" cy="107.2" r="2.40" fill="#ff0055"/>
<circle cx="467.6" cy="138.4" r="2.40" fill="#7a48cf"/>
<circle cx="437.6" cy="74.7" r="2.40" fill="#4266e2"/>
<circle cx="483.6" cy="77.7" r="2.40" fill="#7a48cf"/>
<circle cx="474.6" cy="231.9" r="2.40" fill="#ff0055"/>
<circle cx="414.9" cy="76.0" r="2.40" fill="#4266e2"/>
<circle cx="399.9" cy="231.9" r="2.40" fill="#7a48cf"/>
<circle cx="435.8" cy="73.6" r="2.40" fill="#4266e2"/>
<circle cx="464.2" cy="200.8" r="2.40" fill="#1580f2"/>
<circle cx="436.6" cy="169.6" r="2.40" fill="#7a48cf"/>
<circle cx="426.0" cy="169.6" r="2.40" fill="#4266e2"/>
<circle cx="459.5" cy="263.1" r="2.40" fill="#ff0055"/>
<circle cx="466.4" cy="104.2" r="2.40" fill="#4266e2"/>
<circle cx="601.0" cy="74.2" r="2.40" fill="#7a48cf"/>
<circle cx="527.4" cy="44.8" r="2.40" fill="#7a48cf"/>
<circle cx="462.4" cy="46.6" r="2.40" fill="#4266e2"/>
<circle cx="462.4" cy="43.0" r="2.40" fill="#a81aa8"/>
<circle cx="451.3" cy="164.3" r="2.40" fill="#7a48cf"/>
<circle cx="442.1" cy="134.8" r="2.40" fill="#7a48cf"/>
<circle cx="458.1" cy="147.0" r="2.40" fill="#7a48cf"/>
<circle cx="419.2" cy="40.0" r="2.40" fill="#ff0055"/>
<circle cx="512.2" cy="107.2" r="2.40" fill="#c8008f"/>
<circle cx="453.6" cy="210.9" r="2.40" fill="#4266e2"/>
<circle cx="401.2" cy="114.2" r="2.40" fill="#ff0055"/>
<circle cx="430.0" cy="79.0" r="2.40" fill="#7a48cf"/>
<circle cx="417.1" cy="44.8" r="2.40" fill="#ff0055"/>
<circle cx="615.8" cy="37.6" r="2.40" fill="#4266e2"/>
<circle cx="456.1" cy="172.5" r="2.40" fill="#7a48cf"/>
<circle cx="500.1" cy="76.0" r="2.40" fill="#4266e2"/>
<circle cx="401.2" cy="102.5" r="2.40" fill="#ff0055"/>
<circle cx="429.5" cy="40.0" r="2.40" fill="#ff0055"/>
<circle cx="457.4" cy="138.4" r="2.40" fill="#a81aa8"/>
<circle cx="464.2" cy="265.4" r="2.40" fill="#ff0055"/>
<circle cx="380.6" cy="44.8" r="2.40" fill="#4266e2"/>
<circle cx="401.2" cy="111.8" r="2.40" fill="#7a48cf"/>
<circle cx="518.4" cy="169.6" r="2.40" fill="#ff0055"/>
<circle cx="459.4" cy="169.6" r="2.40" fill="#c8008f"/>
<circle cx="414.9" cy="73.6" r="2.40" fill="#ff0055"/>
<circle cx="451.3" cy="161.7" r="2.40" fill="#ff0055"/>
<circle cx="510.1" cy="169.6" r="2.40" fill="#4266e2"/>
<circle cx="441.0" cy="76.0" r="2.40" fill="#7a48cf"/>
<circle cx="517.8" cy="76.0" r="2.40" fill="#7a48cf"/>
<circle cx="454.1" cy="231.9" r="2.40" fill="#4266e2"/>
<circle cx="457.4" cy="198.0" r="2.40" fill="#4266e2"/>
<circle cx="505.1" cy="76.0" r="2.40" fill="#4266e2"/>
<circle cx="475.2" cy="80.8" r="2.40" fill="#7a48cf"/>
<circle cx="417.5" cy="231.9" r="2.40" fill="#4266e2"/>
<circle cx="481.4" cy="200.8" r="2.40" fill="#ff0055"/>
<circle cx="435.1" cy="47.3" r="2.40" fill="#ff0055"/>
<circle cx="419.2" cy="44.8" r="2.40" fill="#4266e2"/>
<circle cx="615.8" cy="39.7" r="2.40" fill="#7a48cf"/>
<circle cx="472.6" cy="110.2" r="2.40" fill="#7a48cf"/>
<circle cx="414.9" cy="69.2" r="2.40" fill="#7a48cf"/>
<circle cx="417.5" cy="78.4" r="2.40" fill="#a81aa8"/>
<circle cx="481.1" cy="168.0" r="2.40" fill="#7a48cf"/>
<circle cx="424.4" cy="44.8" r="2.40" fill="#ff0055"/>
<circle cx="462.4" cy="142.0" r="2.40" fill="#4266e2"/>
<circle cx="429.3" cy="127.8" r="2.40" fill="#7a48cf"/>
<circle cx="505.4" cy="44.8" r="2.40" fill="#ff0055"/>
<circle cx="471.4" cy="138.4" r="2.40" fill="#7a48cf"/>
<circle cx="375.5" cy="138.4" r="2.40" fill="#ff0055"/>
<circle cx="560.8" cy="76.0" r="2.40" fill="#a81aa8"/>
<circle cx="459.6" cy="44.8" r="2.40" fill="#ff0055"/>
<circle cx="512.9" cy="169.6" r="2.40" fill="#7a48cf"/>
<circle cx="462.0" cy="167.0" r="2.40" fill="#ff0055"/>
<circle cx="441.6" cy="169.6" r="2.40" fill="#4266e2"/>
<circle cx="506.4" cy="197.9" r="2.40" fill="#7a48cf"/>
<circle cx="428.4" cy="44.8" r="2.40" fill="#a81aa8"/>
<circle cx="401.2" cy="97.9" r="2.40" fill="#ff0055"/>
<circle cx="401.2" cy="116.5" r="2.40" fill="#ff0055"/>
<circle cx="391.8" cy="44.8" r="2.40" fill="#4266e2"/>
<circle cx="427.0" cy="47.2" r="2.40" fill="#ff0055"/>
<circle cx="442.0" cy="44.8" r="2.40" fill="#1580f2"/>
<circle cx="451.3" cy="167.0" r="2.40" fill="#1580f2"/>
<circle cx="434.5" cy="138.4" r="2.40" fill="#a81aa8"/>
<circle cx="617.0" cy="43.8" r="2.40" fill="#a81aa8"/>
<circle cx="468.9" cy="164.5" r="2.40" fill="#ff0055"/>
<circle cx="617.0" cy="45.8" r="2.40" fill="#7a48cf"/>
<circle cx="445.1" cy="52.2" r="2.40" fill="#7a48cf"/>
<circle cx="439.9" cy="40.0" r="2.40" fill="#4266e2"/>
<circle cx="429.4" cy="138.4" r="2.40" fill="#a81aa8"/>
<circle cx="457.9" cy="240.8" r="2.40" fill="#4266e2"/>
<circle cx="442.4" cy="105.7" r="2.40" fill="#ff0055"/>
<circle cx="429.3" cy="144.7" r="2.40" fill="#ff0055"/>
<circle cx="485.6" cy="105.4" r="2.40" fill="#ff0055"/>
<circle cx="498.5" cy="44.8" r="2.40" fill="#a81aa8"/>
<circle cx="464.2" cy="260.8" r="2.40" fill="#ff0055"/>
<circle cx="475.4" cy="171.2" r="2.40" fill="#ff0055"/>
<circle cx="411.4" cy="138.4" r="2.40" fill="#7a48cf"/>
<circle cx="468.5" cy="206.1" r="2.40" fill="#4266e2"/>
<circle cx="482.0" cy="46.7" r="2.40" fill="#c8008f"/>
<circle cx="414.0" cy="40.0" r="2.40" fill="#7a48cf"/>
<circle cx="442.1" cy="239.4" r="2.40" fill="#ff0055"/>
<circle cx="439.6" cy="138.4" r="2.40" fill="#ff0055"/>
<circle cx="452.0" cy="98.2" r="2.40" fill="#ff0055"/>
<circle cx="462.7" cy="226.7" r="2.40" fill="#ff0055"/>
<circle cx="543.1" cy="76.0" r="2.40" fill="#7a48cf"/>
<circle cx="453.6" cy="195.7" r="2.40" fill="#7a48cf"/>
<circle cx="448.0" cy="147.7" r="2.40" fill="#4266e2"/>
<circle cx="478.2" cy="203.3" r="2.40" fill="#1580f2"/>
<circle cx="439.9" cy="42.4" r="2.40" fill="#7a48cf"/>
<circle cx="462.0" cy="101.6" r="2.40" fill="#4266e2"/>
<circle cx="515.2" cy="76.0" r="2.40" fill="#ff0055"/>
<circle cx="445.1" cy="47.2" r="2.40" fill="#4266e2"/>
<circle cx="435.1" cy="39.7" r="2.40" fill="#7a48cf"/>
<circle cx="438.9" cy="39.9" r="2.40" fill="#ff0055"/>
<circle cx="472.5" cy="231.9" r="2.40" fill="#ff0055"/>
<circle cx="424.4" cy="47.2" r="2.40" fill="#7a48cf"/>
<circle cx="441.1" cy="80.4" r="2.40" fill="#ff0055"/>
<circle cx="460.6" cy="189.7" r="2.40" fill="#7a48cf"/>
<circle cx="462.0" cy="172.2" r="2.40" fill="#7a48cf"/>
<circle cx="417.1" cy="47.8" r="2.40" fill="#1580f2"/>
<circle cx="413.0" cy="263.1" r="2.40" fill="#c8008f"/>
<circle cx="529.5" cy="44.8" r="2.40" fill="#7a48cf"/>
<circle cx="425.8" cy="76.0" r="2.40" fill="#7a48cf"/>
<circle cx="454.9" cy="142.0" r="2.40" fill="#a81aa8"/>
<circle cx="457.4" cy="192.4" r="2.40" fill="#4266e2"/>
<circle cx="550.8" cy="44.8" r="2.40" fill="#7a48cf"/>
<circle cx="495.0" cy="76.0" r="2.40" fill="#4266e2"/>
<circle cx="349.3" cy="231.9" r="2.40" fill="#ff0055"/>
<circle cx="457.9" cy="237.9" r="2.40" fill="#ff0055"/>
<circle cx="487.4" cy="76.0" r="2.40" fill="#1580f2"/>
<circle cx="512.7" cy="76.0" r="2.40" fill="#ff0055"/>
<circle cx="452.0" cy="228.3" r="2.40" fill="#4266e2"/>
<circle cx="460.6" cy="211.8" r="2.40" fill="#4266e2"/>
<circle cx="483.8" cy="200.8" r="2.40" fill="#ff0055"/>
<circle cx="489.5" cy="263.1" r="2.40" fill="#4266e2"/>
<circle cx="460.6" cy="198.0" r="2.40" fill="#a81aa8"/>
<circle cx="467.0" cy="110.4" r="2.40" fill="#4266e2"/>
<circle cx="469.5" cy="111.0" r="2.40" fill="#4266e2"/>
<circle cx="472.0" cy="110.6" r="2.40" fill="#7a48cf"/>
<circle cx="464.5" cy="106.7" r="2.40" fill="#7a48cf"/>
<circle cx="549.0" cy="169.6" r="1.70" fill="#7d6cc8"/>
</g>
<line x1="256.8" x2="634.2" y1="357.4" y2="357.4" stroke="#707070" stroke-width="1.4"/>
<g stroke="#707070" stroke-width="1.2">
<line x1="281.7" x2="281.7" y1="357.4" y2="361.2"/>
<line x1="340.3" x2="340.3" y1="357.4" y2="361.2"/>
<line x1="398.8" x2="398.8" y1="357.4" y2="361.2"/>
<line x1="457.4" x2="457.4" y1="357.4" y2="361.2"/>
<line x1="516.0" x2="516.0" y1="357.4" y2="361.2"/>
<line x1="574.5" x2="574.5" y1="357.4" y2="361.2"/>
<line x1="633.1" x2="633.1" y1="357.4" y2="361.2"/>
</g>
<g font-size="12.9" fill="#555">
<text x="281.9" y="374.5" text-anchor="middle">−0.6</text>
<text x="340.5" y="374.5" text-anchor="middle">−0.4</text>
<text x="399.0" y="374.5" text-anchor="middle">−0.2</text>
<text x="458.0" y="374.5" text-anchor="middle">0.0</text>
<text x="516.6" y="374.5" text-anchor="middle">0.2</text>
<text x="575.1" y="374.5" text-anchor="middle">0.4</text>
<text x="633.7" y="374.5" text-anchor="middle">0.6</text>
</g>
<g font-size="14.2" fill="#333">
<text x="98.6" y="51.3" textLength="133.1" lengthAdjust="spacingAndGlyphs">INCOMEIQ_PLUS_V3</text>
<text x="108.3" y="82.5" textLength="123.4" lengthAdjust="spacingAndGlyphs">AIQ_EMPLOYMENT</text>
<text x="97.1" y="113.7" textLength="134.6" lengthAdjust="spacingAndGlyphs">AIQ_EDUCATION_V2</text>
<text x="59.3" y="144.9" textLength="172.4" lengthAdjust="spacingAndGlyphs">INCOMEIQ_PLUS_DISP_V2</text>
<text x="203.9" y="176.0" textLength="27.8" lengthAdjust="spacingAndGlyphs">AGE</text>
<text x="124.1" y="207.2" textLength="107.6" lengthAdjust="spacingAndGlyphs">HW_STRESS_V2</text>
<text x="108.7" y="238.4" textLength="123.0" lengthAdjust="spacingAndGlyphs">HW_ER_VISITS_SC</text>
<text x="142.0" y="269.6" textLength="89.7" lengthAdjust="spacingAndGlyphs">ETHNICIQ_V2</text>
<text x="78.9" y="300.8" textLength="152.8" lengthAdjust="spacingAndGlyphs">HW_MED_UTILIZATION</text>
<text x="6.8" y="332.0" textLength="224.9" lengthAdjust="spacingAndGlyphs">HW_PRIMARY_CARE_DOCTOR_SC</text>
</g>
<text x="445.2" y="392.2" text-anchor="middle" font-size="14.2" fill="#333" textLength="260" lengthAdjust="spacingAndGlyphs">SHAP value (impact on model output)</text>
<rect x="657.3" y="13.9" width="4.1" height="342.8" fill="url(#cb)"/>
<text x="665.8" y="18.6" font-size="12.6" fill="#333" stroke="#333" stroke-width="0.15" textLength="26.5" lengthAdjust="spacingAndGlyphs">High</text>
<text x="665.8" y="361" font-size="12.6" fill="#333" stroke="#333" stroke-width="0.15" textLength="22.5" lengthAdjust="spacingAndGlyphs">Low</text>
<text transform="translate(702.2,187) rotate(-90)" text-anchor="middle" font-size="14" fill="#333" textLength="95" lengthAdjust="spacingAndGlyphs">Feature value</text>
</g>
</svg>
</body></html>
